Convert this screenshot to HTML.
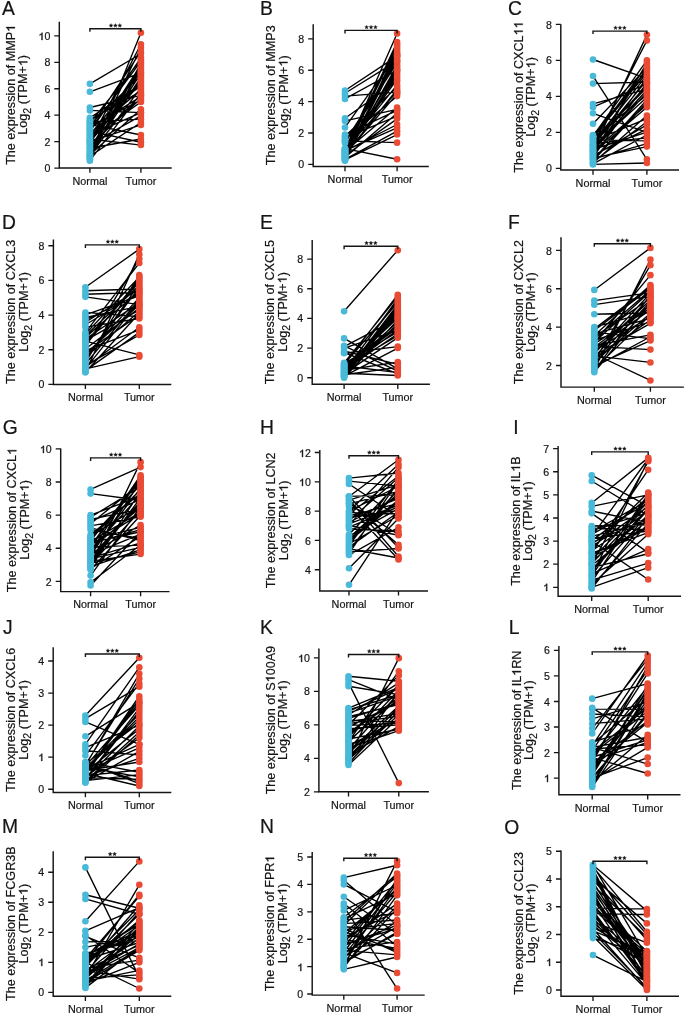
<!DOCTYPE html><html><head><meta charset="utf-8"><style>html,body{margin:0;padding:0;background:#fff;}svg{display:block;will-change:transform}</style></head><body>
<svg width="685" height="1017" viewBox="0 0 685 1017" font-family="Liberation Sans, sans-serif">
<style>text{stroke:#151515;stroke-width:0.2px;fill:#151515;font-kerning:none;white-space:pre}.one{fill:#151515;stroke:#151515;stroke-width:0.4px}</style>
<rect width="685" height="1017" fill="#fff"/>
<g><text x="2.0" y="14.85" font-size="19.3" fill="#000">A</text><path d="M89.90 122.97L140.90 59.60M89.90 141.81L140.90 82.55M89.90 145.24L140.90 98.44M89.90 124.44L140.90 135.01M89.90 143.52L140.90 64.90M89.90 131.53L140.90 57.84M89.90 135.01L140.90 112.55M89.90 136.67L140.90 80.79M89.90 138.38L140.90 101.98M89.90 152.19L140.90 47.79M89.90 144.26L140.90 115.85M89.90 155.51L140.90 87.85M89.90 133.25L140.90 89.62M89.90 124.68L140.90 75.49M89.90 146.95L140.90 94.91M89.90 131.05L140.90 142.28M89.90 119.55L140.90 91.38M89.90 157.22L140.90 68.43M89.90 158.80L140.90 32.86M89.90 150.37L140.90 73.73M89.90 117.83L140.90 84.32M89.90 156.16L140.90 122.46M89.90 121.26L140.90 86.09M89.90 129.82L140.90 61.37M89.90 91.80L140.90 72.90M89.90 160.65L140.90 93.15M89.90 128.11L140.90 96.68M89.90 148.66L140.90 66.66M89.90 134.96L140.90 71.96M89.90 83.87L140.90 53.74M89.90 152.09L140.90 79.02M89.90 141.62L140.90 124.97M89.90 140.10L140.90 70.20M89.90 110.43L140.90 112.55M89.90 154.84L140.90 109.24M89.90 138.98L140.90 145.06M89.90 158.94L140.90 63.13M89.90 121.80L140.90 119.15M89.90 148.23L140.90 138.98M89.90 141.62L140.90 44.23M89.90 107.53L140.90 95.37M89.90 153.80L140.90 77.26M89.90 128.41L140.90 51.49M89.90 126.40L140.90 100.21" stroke="#000" stroke-width="1.35" fill="none"/><g fill="#48b9d9"><circle cx="89.90" cy="122.97" r="3.3"/><circle cx="89.90" cy="141.81" r="3.3"/><circle cx="89.90" cy="145.24" r="3.3"/><circle cx="89.90" cy="124.44" r="3.3"/><circle cx="89.90" cy="143.52" r="3.3"/><circle cx="89.90" cy="131.53" r="3.3"/><circle cx="89.90" cy="135.01" r="3.3"/><circle cx="89.90" cy="136.67" r="3.3"/><circle cx="89.90" cy="138.38" r="3.3"/><circle cx="89.90" cy="152.19" r="3.3"/><circle cx="89.90" cy="144.26" r="3.3"/><circle cx="89.90" cy="155.51" r="3.3"/><circle cx="89.90" cy="133.25" r="3.3"/><circle cx="89.90" cy="124.68" r="3.3"/><circle cx="89.90" cy="146.95" r="3.3"/><circle cx="89.90" cy="131.05" r="3.3"/><circle cx="89.90" cy="119.55" r="3.3"/><circle cx="89.90" cy="157.22" r="3.3"/><circle cx="89.90" cy="158.80" r="3.3"/><circle cx="89.90" cy="150.37" r="3.3"/><circle cx="89.90" cy="117.83" r="3.3"/><circle cx="89.90" cy="156.16" r="3.3"/><circle cx="89.90" cy="121.26" r="3.3"/><circle cx="89.90" cy="129.82" r="3.3"/><circle cx="89.90" cy="91.80" r="3.3"/><circle cx="89.90" cy="160.65" r="3.3"/><circle cx="89.90" cy="128.11" r="3.3"/><circle cx="89.90" cy="148.66" r="3.3"/><circle cx="89.90" cy="134.96" r="3.3"/><circle cx="89.90" cy="83.87" r="3.3"/><circle cx="89.90" cy="152.09" r="3.3"/><circle cx="89.90" cy="141.62" r="3.3"/><circle cx="89.90" cy="140.10" r="3.3"/><circle cx="89.90" cy="110.43" r="3.3"/><circle cx="89.90" cy="154.84" r="3.3"/><circle cx="89.90" cy="138.98" r="3.3"/><circle cx="89.90" cy="158.94" r="3.3"/><circle cx="89.90" cy="121.80" r="3.3"/><circle cx="89.90" cy="148.23" r="3.3"/><circle cx="89.90" cy="141.62" r="3.3"/><circle cx="89.90" cy="107.53" r="3.3"/><circle cx="89.90" cy="153.80" r="3.3"/><circle cx="89.90" cy="128.41" r="3.3"/><circle cx="89.90" cy="126.40" r="3.3"/></g><g fill="#e94b35"><circle cx="140.90" cy="59.60" r="3.3"/><circle cx="140.90" cy="82.55" r="3.3"/><circle cx="140.90" cy="98.44" r="3.3"/><circle cx="140.90" cy="135.01" r="3.3"/><circle cx="140.90" cy="64.90" r="3.3"/><circle cx="140.90" cy="57.84" r="3.3"/><circle cx="140.90" cy="112.55" r="3.3"/><circle cx="140.90" cy="80.79" r="3.3"/><circle cx="140.90" cy="101.98" r="3.3"/><circle cx="140.90" cy="47.79" r="3.3"/><circle cx="140.90" cy="115.85" r="3.3"/><circle cx="140.90" cy="87.85" r="3.3"/><circle cx="140.90" cy="89.62" r="3.3"/><circle cx="140.90" cy="75.49" r="3.3"/><circle cx="140.90" cy="94.91" r="3.3"/><circle cx="140.90" cy="142.28" r="3.3"/><circle cx="140.90" cy="91.38" r="3.3"/><circle cx="140.90" cy="68.43" r="3.3"/><circle cx="140.90" cy="32.86" r="3.3"/><circle cx="140.90" cy="73.73" r="3.3"/><circle cx="140.90" cy="84.32" r="3.3"/><circle cx="140.90" cy="122.46" r="3.3"/><circle cx="140.90" cy="86.09" r="3.3"/><circle cx="140.90" cy="61.37" r="3.3"/><circle cx="140.90" cy="72.90" r="3.3"/><circle cx="140.90" cy="93.15" r="3.3"/><circle cx="140.90" cy="96.68" r="3.3"/><circle cx="140.90" cy="66.66" r="3.3"/><circle cx="140.90" cy="71.96" r="3.3"/><circle cx="140.90" cy="53.74" r="3.3"/><circle cx="140.90" cy="79.02" r="3.3"/><circle cx="140.90" cy="124.97" r="3.3"/><circle cx="140.90" cy="70.20" r="3.3"/><circle cx="140.90" cy="112.55" r="3.3"/><circle cx="140.90" cy="109.24" r="3.3"/><circle cx="140.90" cy="145.06" r="3.3"/><circle cx="140.90" cy="63.13" r="3.3"/><circle cx="140.90" cy="119.15" r="3.3"/><circle cx="140.90" cy="138.98" r="3.3"/><circle cx="140.90" cy="44.23" r="3.3"/><circle cx="140.90" cy="95.37" r="3.3"/><circle cx="140.90" cy="77.26" r="3.3"/><circle cx="140.90" cy="51.49" r="3.3"/><circle cx="140.90" cy="100.21" r="3.3"/></g><path d="M59.30 21.80V168.05H171.70" fill="none" stroke="#151515" stroke-width="1.45"/><path d="M54.30 168.05H59.30M54.30 141.62H59.30M54.30 115.19H59.30M54.30 88.76H59.30M54.30 62.33H59.30M54.30 35.90H59.30M89.90 168.05V172.75M140.90 168.05V172.75" stroke="#151515" stroke-width="1.35" fill="none"/><text x="44.40" y="172.00" font-size="10.6">0</text><text x="44.40" y="146.00" font-size="10.6">2</text><text x="44.40" y="119.00" font-size="10.6">4</text><text x="44.40" y="93.00" font-size="10.6">6</text><text x="44.40" y="66.00" font-size="10.6">8</text><text x="44.40" y="40.00" font-size="10.6">0</text><path d="M42.46 40.00L41.53 40.00L41.53 34.32L41.19 34.62L40.64 34.93L40.09 35.24L39.66 35.39L39.66 34.53L40.45 34.18L41.03 33.68L41.62 33.18L41.86 32.71L42.46 32.71Z" class="one"/><text x="89.90" y="184.85" font-size="10.8" text-anchor="middle" fill="#151515" style="font-kerning:normal">Normal</text><text x="140.90" y="184.85" font-size="10.8" text-anchor="middle" fill="#151515" style="font-kerning:normal">Tumor</text><g transform="translate(14.90 94.83) rotate(-90)"><text x="-70.03" y="0.00" font-size="12.6">The expression of MMP</text><path d="M67.72 0.00L66.61 0.00L66.61 -6.75L66.21 -6.39L65.56 -6.02L64.90 -5.66L64.39 -5.48L64.39 -6.50L65.32 -6.92L66.02 -7.51L66.71 -8.11L67.00 -8.67L67.72 -8.67Z" class="one"/></g><g transform="translate(27.30 94.83) rotate(-90)"><text x="-39.86" y="0.00" font-size="12.6">Log</text><text x="-18.84" y="3.90" font-size="10.5">2</text><text x="-13.00" y="0.00" font-size="12.6"> (TPM+</text><text x="35.66" y="0.00" font-size="12.6">)</text><path d="M33.35 0.00L32.24 0.00L32.24 -6.75L31.84 -6.39L31.19 -6.02L30.54 -5.66L30.03 -5.48L30.03 -6.50L30.96 -6.92L31.65 -7.51L32.35 -8.11L32.64 -8.67L33.35 -8.67Z" class="one"/></g><path d="M89.90 31.80V28.80H140.90V31.80" fill="none" stroke="#151515" stroke-width="1.4"/><path d="M111.00 23.55L110.44 24.83L109.05 24.97L110.10 25.89L109.80 27.26L111.00 26.55L112.20 27.26L111.90 25.89L112.95 24.97L111.56 24.83ZM115.40 23.55L114.84 24.83L113.45 24.97L114.50 25.89L114.20 27.26L115.40 26.55L116.60 27.26L116.30 25.89L117.35 24.97L115.96 24.83ZM119.80 23.55L119.24 24.83L117.85 24.97L118.90 25.89L118.60 27.26L119.80 26.55L121.00 27.26L120.70 25.89L121.75 24.97L120.36 24.83Z" fill="#151515" stroke="#151515" stroke-width="0.3" stroke-linejoin="round"/></g>
<g><text x="259.9" y="14.85" font-size="19.3" fill="#000">B</text><path d="M345.00 159.87L397.10 134.52M345.00 151.07L397.10 124.49M345.00 155.47L397.10 118.84M345.00 157.43L397.10 113.20M345.00 150.58L397.10 127.83M345.00 159.38L397.10 131.17M345.00 155.96L397.10 74.40M345.00 148.62L397.10 44.27M345.00 127.46L397.10 54.58M345.00 156.94L397.10 72.09M345.00 139.60L397.10 96.11M345.00 118.22L397.10 81.22M345.00 136.21L397.10 87.08M345.00 154.00L397.10 55.47M345.00 154.49L397.10 93.86M345.00 120.88L397.10 109.44M345.00 157.92L397.10 65.16M345.00 152.54L397.10 69.78M345.00 151.56L397.10 107.56M345.00 152.05L397.10 79.03M345.00 134.52L397.10 110.38M345.00 150.09L397.10 76.72M345.00 156.45L397.10 67.47M345.00 153.03L397.10 46.51M345.00 153.52L397.10 42.04M345.00 148.62L397.10 159.28M345.00 154.98L397.10 89.34M345.00 158.41L397.10 57.71M345.00 137.90L397.10 116.02M345.00 149.11L397.10 84.83M345.00 160.36L397.10 50.99M345.00 96.11L397.10 92.20M345.00 142.98L397.10 62.84M345.00 151.76L397.10 33.57M345.00 93.29L397.10 60.85M345.00 158.90L397.10 53.23M345.00 160.85L397.10 48.75M345.00 149.60L397.10 91.60M345.00 98.94L397.10 70.25M345.00 140.79L397.10 142.67M345.00 141.29L397.10 60.53M345.00 90.47L397.10 56.14" stroke="#000" stroke-width="1.35" fill="none"/><g fill="#48b9d9"><circle cx="345.00" cy="159.87" r="3.3"/><circle cx="345.00" cy="151.07" r="3.3"/><circle cx="345.00" cy="155.47" r="3.3"/><circle cx="345.00" cy="157.43" r="3.3"/><circle cx="345.00" cy="150.58" r="3.3"/><circle cx="345.00" cy="159.38" r="3.3"/><circle cx="345.00" cy="155.96" r="3.3"/><circle cx="345.00" cy="148.62" r="3.3"/><circle cx="345.00" cy="127.46" r="3.3"/><circle cx="345.00" cy="156.94" r="3.3"/><circle cx="345.00" cy="139.60" r="3.3"/><circle cx="345.00" cy="118.22" r="3.3"/><circle cx="345.00" cy="136.21" r="3.3"/><circle cx="345.00" cy="154.00" r="3.3"/><circle cx="345.00" cy="154.49" r="3.3"/><circle cx="345.00" cy="120.88" r="3.3"/><circle cx="345.00" cy="157.92" r="3.3"/><circle cx="345.00" cy="152.54" r="3.3"/><circle cx="345.00" cy="151.56" r="3.3"/><circle cx="345.00" cy="152.05" r="3.3"/><circle cx="345.00" cy="134.52" r="3.3"/><circle cx="345.00" cy="150.09" r="3.3"/><circle cx="345.00" cy="156.45" r="3.3"/><circle cx="345.00" cy="153.03" r="3.3"/><circle cx="345.00" cy="153.52" r="3.3"/><circle cx="345.00" cy="148.62" r="3.3"/><circle cx="345.00" cy="154.98" r="3.3"/><circle cx="345.00" cy="158.41" r="3.3"/><circle cx="345.00" cy="137.90" r="3.3"/><circle cx="345.00" cy="149.11" r="3.3"/><circle cx="345.00" cy="160.36" r="3.3"/><circle cx="345.00" cy="96.11" r="3.3"/><circle cx="345.00" cy="142.98" r="3.3"/><circle cx="345.00" cy="151.76" r="3.3"/><circle cx="345.00" cy="93.29" r="3.3"/><circle cx="345.00" cy="158.90" r="3.3"/><circle cx="345.00" cy="160.85" r="3.3"/><circle cx="345.00" cy="149.60" r="3.3"/><circle cx="345.00" cy="98.94" r="3.3"/><circle cx="345.00" cy="140.79" r="3.3"/><circle cx="345.00" cy="141.29" r="3.3"/><circle cx="345.00" cy="90.47" r="3.3"/></g><g fill="#e94b35"><circle cx="397.10" cy="134.52" r="3.3"/><circle cx="397.10" cy="124.49" r="3.3"/><circle cx="397.10" cy="118.84" r="3.3"/><circle cx="397.10" cy="113.20" r="3.3"/><circle cx="397.10" cy="127.83" r="3.3"/><circle cx="397.10" cy="131.17" r="3.3"/><circle cx="397.10" cy="74.40" r="3.3"/><circle cx="397.10" cy="44.27" r="3.3"/><circle cx="397.10" cy="54.58" r="3.3"/><circle cx="397.10" cy="72.09" r="3.3"/><circle cx="397.10" cy="96.11" r="3.3"/><circle cx="397.10" cy="81.22" r="3.3"/><circle cx="397.10" cy="87.08" r="3.3"/><circle cx="397.10" cy="55.47" r="3.3"/><circle cx="397.10" cy="93.86" r="3.3"/><circle cx="397.10" cy="109.44" r="3.3"/><circle cx="397.10" cy="65.16" r="3.3"/><circle cx="397.10" cy="69.78" r="3.3"/><circle cx="397.10" cy="107.56" r="3.3"/><circle cx="397.10" cy="79.03" r="3.3"/><circle cx="397.10" cy="110.38" r="3.3"/><circle cx="397.10" cy="76.72" r="3.3"/><circle cx="397.10" cy="67.47" r="3.3"/><circle cx="397.10" cy="46.51" r="3.3"/><circle cx="397.10" cy="42.04" r="3.3"/><circle cx="397.10" cy="159.28" r="3.3"/><circle cx="397.10" cy="89.34" r="3.3"/><circle cx="397.10" cy="57.71" r="3.3"/><circle cx="397.10" cy="116.02" r="3.3"/><circle cx="397.10" cy="84.83" r="3.3"/><circle cx="397.10" cy="50.99" r="3.3"/><circle cx="397.10" cy="92.20" r="3.3"/><circle cx="397.10" cy="62.84" r="3.3"/><circle cx="397.10" cy="33.57" r="3.3"/><circle cx="397.10" cy="60.85" r="3.3"/><circle cx="397.10" cy="53.23" r="3.3"/><circle cx="397.10" cy="48.75" r="3.3"/><circle cx="397.10" cy="91.60" r="3.3"/><circle cx="397.10" cy="70.25" r="3.3"/><circle cx="397.10" cy="142.67" r="3.3"/><circle cx="397.10" cy="60.53" r="3.3"/><circle cx="397.10" cy="56.14" r="3.3"/></g><path d="M313.20 24.20V166.50H428.80" fill="none" stroke="#151515" stroke-width="1.45"/><path d="M308.20 164.30H313.20M308.20 132.95H313.20M308.20 101.60H313.20M308.20 70.25H313.20M308.20 38.90H313.20M345.00 166.50V171.20M397.10 166.50V171.20" stroke="#151515" stroke-width="1.35" fill="none"/><text x="298.30" y="168.00" font-size="10.6">0</text><text x="298.30" y="137.00" font-size="10.6">2</text><text x="298.30" y="106.00" font-size="10.6">4</text><text x="298.30" y="74.00" font-size="10.6">6</text><text x="298.30" y="43.00" font-size="10.6">8</text><text x="345.00" y="183.30" font-size="10.8" text-anchor="middle" fill="#151515" style="font-kerning:normal">Normal</text><text x="397.10" y="183.30" font-size="10.8" text-anchor="middle" fill="#151515" style="font-kerning:normal">Tumor</text><g transform="translate(275.10 95.25) rotate(-90)"><text x="-70.03" y="0.00" font-size="12.6">The expression of MMP3</text></g><g transform="translate(287.50 95.25) rotate(-90)"><text x="-39.86" y="0.00" font-size="12.6">Log</text><text x="-18.84" y="3.90" font-size="10.5">2</text><text x="-13.00" y="0.00" font-size="12.6"> (TPM+</text><text x="35.66" y="0.00" font-size="12.6">)</text><path d="M33.35 0.00L32.24 0.00L32.24 -6.75L31.84 -6.39L31.19 -6.02L30.54 -5.66L30.03 -5.48L30.03 -6.50L30.96 -6.92L31.65 -7.51L32.35 -8.11L32.64 -8.67L33.35 -8.67Z" class="one"/></g><path d="M345.00 33.40V30.40H397.10V33.40" fill="none" stroke="#151515" stroke-width="1.4"/><path d="M366.65 25.15L366.09 26.43L364.70 26.57L365.75 27.49L365.45 28.86L366.65 28.15L367.85 28.86L367.55 27.49L368.60 26.57L367.21 26.43ZM371.05 25.15L370.49 26.43L369.10 26.57L370.15 27.49L369.85 28.86L371.05 28.15L372.25 28.86L371.95 27.49L373.00 26.57L371.61 26.43ZM375.45 25.15L374.89 26.43L373.50 26.57L374.55 27.49L374.25 28.86L375.45 28.15L376.65 28.86L376.35 27.49L377.40 26.57L376.01 26.43Z" fill="#151515" stroke="#151515" stroke-width="0.3" stroke-linejoin="round"/></g>
<g><text x="508.1" y="14.85" font-size="19.3" fill="#000">C</text><path d="M593.00 143.74L646.90 137.89M593.00 145.00L646.90 40.60M593.00 123.76L646.90 67.60M593.00 141.82L646.90 87.49M593.00 145.66L646.90 80.11M593.00 136.06L646.90 60.40M593.00 154.30L646.90 62.86M593.00 159.10L646.90 143.71M593.00 149.50L646.90 132.07M593.00 83.62L646.90 82.00M593.00 160.06L646.90 99.81M593.00 135.10L646.90 70.25M593.00 163.90L646.90 134.98M593.00 158.14L646.90 146.62M593.00 146.62L646.90 97.35M593.00 162.94L646.90 115.48M593.00 156.22L646.90 124.84M593.00 107.20L646.90 83.80M593.00 150.46L646.90 92.42M593.00 153.34L646.90 107.20M593.00 148.54L646.90 89.96M593.00 151.42L646.90 104.74M593.00 137.98L646.90 94.88M593.00 164.44L646.90 163.00M593.00 140.86L646.90 118.60M593.00 144.70L646.90 85.03M593.00 142.78L646.90 75.18M593.00 161.02L646.90 102.27M593.00 157.18L646.90 82.57M593.00 76.06L646.90 159.40M593.00 103.96L646.90 89.20M593.00 59.50L646.90 78.40M593.00 150.40L646.90 34.84M593.00 139.90L646.90 140.80M593.00 155.26L646.90 129.16M593.00 152.38L646.90 77.64M593.00 161.98L646.90 121.72M593.00 138.94L646.90 65.33M593.00 113.32L646.90 132.40M593.00 137.02L646.90 72.72M593.00 147.58L646.90 67.79" stroke="#000" stroke-width="1.35" fill="none"/><g fill="#48b9d9"><circle cx="593.00" cy="143.74" r="3.3"/><circle cx="593.00" cy="145.00" r="3.3"/><circle cx="593.00" cy="123.76" r="3.3"/><circle cx="593.00" cy="141.82" r="3.3"/><circle cx="593.00" cy="145.66" r="3.3"/><circle cx="593.00" cy="136.06" r="3.3"/><circle cx="593.00" cy="154.30" r="3.3"/><circle cx="593.00" cy="159.10" r="3.3"/><circle cx="593.00" cy="149.50" r="3.3"/><circle cx="593.00" cy="83.62" r="3.3"/><circle cx="593.00" cy="160.06" r="3.3"/><circle cx="593.00" cy="135.10" r="3.3"/><circle cx="593.00" cy="163.90" r="3.3"/><circle cx="593.00" cy="158.14" r="3.3"/><circle cx="593.00" cy="146.62" r="3.3"/><circle cx="593.00" cy="162.94" r="3.3"/><circle cx="593.00" cy="156.22" r="3.3"/><circle cx="593.00" cy="107.20" r="3.3"/><circle cx="593.00" cy="150.46" r="3.3"/><circle cx="593.00" cy="153.34" r="3.3"/><circle cx="593.00" cy="148.54" r="3.3"/><circle cx="593.00" cy="151.42" r="3.3"/><circle cx="593.00" cy="137.98" r="3.3"/><circle cx="593.00" cy="164.44" r="3.3"/><circle cx="593.00" cy="140.86" r="3.3"/><circle cx="593.00" cy="144.70" r="3.3"/><circle cx="593.00" cy="142.78" r="3.3"/><circle cx="593.00" cy="161.02" r="3.3"/><circle cx="593.00" cy="157.18" r="3.3"/><circle cx="593.00" cy="76.06" r="3.3"/><circle cx="593.00" cy="103.96" r="3.3"/><circle cx="593.00" cy="59.50" r="3.3"/><circle cx="593.00" cy="150.40" r="3.3"/><circle cx="593.00" cy="139.90" r="3.3"/><circle cx="593.00" cy="155.26" r="3.3"/><circle cx="593.00" cy="152.38" r="3.3"/><circle cx="593.00" cy="161.98" r="3.3"/><circle cx="593.00" cy="138.94" r="3.3"/><circle cx="593.00" cy="113.32" r="3.3"/><circle cx="593.00" cy="137.02" r="3.3"/><circle cx="593.00" cy="147.58" r="3.3"/></g><g fill="#e94b35"><circle cx="646.90" cy="137.89" r="3.3"/><circle cx="646.90" cy="40.60" r="3.3"/><circle cx="646.90" cy="67.60" r="3.3"/><circle cx="646.90" cy="87.49" r="3.3"/><circle cx="646.90" cy="80.11" r="3.3"/><circle cx="646.90" cy="60.40" r="3.3"/><circle cx="646.90" cy="62.86" r="3.3"/><circle cx="646.90" cy="143.71" r="3.3"/><circle cx="646.90" cy="132.07" r="3.3"/><circle cx="646.90" cy="82.00" r="3.3"/><circle cx="646.90" cy="99.81" r="3.3"/><circle cx="646.90" cy="70.25" r="3.3"/><circle cx="646.90" cy="134.98" r="3.3"/><circle cx="646.90" cy="146.62" r="3.3"/><circle cx="646.90" cy="97.35" r="3.3"/><circle cx="646.90" cy="115.48" r="3.3"/><circle cx="646.90" cy="124.84" r="3.3"/><circle cx="646.90" cy="83.80" r="3.3"/><circle cx="646.90" cy="92.42" r="3.3"/><circle cx="646.90" cy="107.20" r="3.3"/><circle cx="646.90" cy="89.96" r="3.3"/><circle cx="646.90" cy="104.74" r="3.3"/><circle cx="646.90" cy="94.88" r="3.3"/><circle cx="646.90" cy="163.00" r="3.3"/><circle cx="646.90" cy="118.60" r="3.3"/><circle cx="646.90" cy="85.03" r="3.3"/><circle cx="646.90" cy="75.18" r="3.3"/><circle cx="646.90" cy="102.27" r="3.3"/><circle cx="646.90" cy="82.57" r="3.3"/><circle cx="646.90" cy="159.40" r="3.3"/><circle cx="646.90" cy="89.20" r="3.3"/><circle cx="646.90" cy="78.40" r="3.3"/><circle cx="646.90" cy="34.84" r="3.3"/><circle cx="646.90" cy="140.80" r="3.3"/><circle cx="646.90" cy="129.16" r="3.3"/><circle cx="646.90" cy="77.64" r="3.3"/><circle cx="646.90" cy="121.72" r="3.3"/><circle cx="646.90" cy="65.33" r="3.3"/><circle cx="646.90" cy="132.40" r="3.3"/><circle cx="646.90" cy="72.72" r="3.3"/><circle cx="646.90" cy="67.79" r="3.3"/></g><path d="M560.80 24.20V170.00H679.00" fill="none" stroke="#151515" stroke-width="1.45"/><path d="M555.80 168.40H560.80M555.80 132.40H560.80M555.80 96.40H560.80M555.80 60.40H560.80M555.80 24.40H560.80M593.00 170.00V174.70M646.90 170.00V174.70" stroke="#151515" stroke-width="1.35" fill="none"/><text x="545.90" y="172.00" font-size="10.6">0</text><text x="545.90" y="136.00" font-size="10.6">2</text><text x="545.90" y="100.00" font-size="10.6">4</text><text x="545.90" y="64.00" font-size="10.6">6</text><text x="545.90" y="29.00" font-size="10.6">8</text><text x="593.00" y="186.80" font-size="10.8" text-anchor="middle" fill="#151515" style="font-kerning:normal">Normal</text><text x="646.90" y="186.80" font-size="10.8" text-anchor="middle" fill="#151515" style="font-kerning:normal">Tumor</text><g transform="translate(522.70 97.00) rotate(-90)"><text x="-75.64" y="0.00" font-size="12.6">The expression of CXCL</text><path d="M66.32 0.00L65.21 0.00L65.21 -6.75L64.81 -6.39L64.16 -6.02L63.51 -5.66L63.00 -5.48L63.00 -6.50L63.93 -6.92L64.62 -7.51L65.32 -8.11L65.61 -8.67L66.32 -8.67ZM73.33 0.00L72.22 0.00L72.22 -6.75L71.82 -6.39L71.17 -6.02L70.52 -5.66L70.00 -5.48L70.00 -6.50L70.93 -6.92L71.63 -7.51L72.32 -8.11L72.61 -8.67L73.33 -8.67Z" class="one"/></g><g transform="translate(535.10 97.00) rotate(-90)"><text x="-39.86" y="0.00" font-size="12.6">Log</text><text x="-18.84" y="3.90" font-size="10.5">2</text><text x="-13.00" y="0.00" font-size="12.6"> (TPM+</text><text x="35.66" y="0.00" font-size="12.6">)</text><path d="M33.35 0.00L32.24 0.00L32.24 -6.75L31.84 -6.39L31.19 -6.02L30.54 -5.66L30.03 -5.48L30.03 -6.50L30.96 -6.92L31.65 -7.51L32.35 -8.11L32.64 -8.67L33.35 -8.67Z" class="one"/></g><path d="M593.00 34.10V31.10H646.90V34.10" fill="none" stroke="#151515" stroke-width="1.4"/><path d="M615.55 25.85L614.99 27.13L613.60 27.27L614.65 28.19L614.35 29.56L615.55 28.85L616.75 29.56L616.45 28.19L617.50 27.27L616.11 27.13ZM619.95 25.85L619.39 27.13L618.00 27.27L619.05 28.19L618.75 29.56L619.95 28.85L621.15 29.56L620.85 28.19L621.90 27.27L620.51 27.13ZM624.35 25.85L623.79 27.13L622.40 27.27L623.45 28.19L623.15 29.56L624.35 28.85L625.55 29.56L625.25 28.19L626.30 27.27L624.91 27.13Z" fill="#151515" stroke="#151515" stroke-width="0.3" stroke-linejoin="round"/></g>
<g><text x="2.1" y="229.10" font-size="19.3" fill="#000">D</text><path d="M85.40 327.19L139.30 318.52M85.40 335.71L139.30 285.58M85.40 341.06L139.30 354.93M85.40 290.78L139.30 289.04M85.40 360.63L139.30 283.84M85.40 314.91L139.30 295.98M85.40 345.68L139.30 278.64M85.40 372.26L139.30 254.37M85.40 352.33L139.30 315.05M85.40 362.29L139.30 275.17M85.40 367.28L139.30 327.19M85.40 349.00L139.30 308.12M85.40 337.37L139.30 290.78M85.40 342.36L139.30 282.11M85.40 317.36L139.30 306.38M85.40 363.96L139.30 299.45M85.40 355.65L139.30 297.71M85.40 358.97L139.30 287.31M85.40 347.34L139.30 258.70M85.40 322.27L139.30 289.04M85.40 350.66L139.30 329.79M85.40 370.60L139.30 332.39M85.40 357.31L139.30 311.58M85.40 334.05L139.30 276.91M85.40 372.26L139.30 313.32M85.40 312.45L139.30 316.78M85.40 368.94L139.30 301.18M85.40 332.39L139.30 263.04M85.40 340.70L139.30 309.85M85.40 294.25L139.30 292.51M85.40 339.03L139.30 302.91M85.40 344.02L139.30 280.38M85.40 353.99L139.30 304.65M85.40 287.31L139.30 249.17M85.40 368.80L139.30 356.66M85.40 319.82L139.30 294.25M85.40 365.62L139.30 334.99M85.40 324.73L139.30 292.51M85.40 296.85L139.30 304.65" stroke="#000" stroke-width="1.35" fill="none"/><g fill="#48b9d9"><circle cx="85.40" cy="327.19" r="3.3"/><circle cx="85.40" cy="335.71" r="3.3"/><circle cx="85.40" cy="341.06" r="3.3"/><circle cx="85.40" cy="290.78" r="3.3"/><circle cx="85.40" cy="360.63" r="3.3"/><circle cx="85.40" cy="314.91" r="3.3"/><circle cx="85.40" cy="345.68" r="3.3"/><circle cx="85.40" cy="372.26" r="3.3"/><circle cx="85.40" cy="352.33" r="3.3"/><circle cx="85.40" cy="362.29" r="3.3"/><circle cx="85.40" cy="367.28" r="3.3"/><circle cx="85.40" cy="349.00" r="3.3"/><circle cx="85.40" cy="337.37" r="3.3"/><circle cx="85.40" cy="342.36" r="3.3"/><circle cx="85.40" cy="317.36" r="3.3"/><circle cx="85.40" cy="363.96" r="3.3"/><circle cx="85.40" cy="355.65" r="3.3"/><circle cx="85.40" cy="358.97" r="3.3"/><circle cx="85.40" cy="347.34" r="3.3"/><circle cx="85.40" cy="322.27" r="3.3"/><circle cx="85.40" cy="350.66" r="3.3"/><circle cx="85.40" cy="370.60" r="3.3"/><circle cx="85.40" cy="357.31" r="3.3"/><circle cx="85.40" cy="334.05" r="3.3"/><circle cx="85.40" cy="372.26" r="3.3"/><circle cx="85.40" cy="312.45" r="3.3"/><circle cx="85.40" cy="368.94" r="3.3"/><circle cx="85.40" cy="332.39" r="3.3"/><circle cx="85.40" cy="340.70" r="3.3"/><circle cx="85.40" cy="294.25" r="3.3"/><circle cx="85.40" cy="339.03" r="3.3"/><circle cx="85.40" cy="344.02" r="3.3"/><circle cx="85.40" cy="353.99" r="3.3"/><circle cx="85.40" cy="287.31" r="3.3"/><circle cx="85.40" cy="368.80" r="3.3"/><circle cx="85.40" cy="319.82" r="3.3"/><circle cx="85.40" cy="365.62" r="3.3"/><circle cx="85.40" cy="324.73" r="3.3"/><circle cx="85.40" cy="296.85" r="3.3"/></g><g fill="#e94b35"><circle cx="139.30" cy="318.52" r="3.3"/><circle cx="139.30" cy="285.58" r="3.3"/><circle cx="139.30" cy="354.93" r="3.3"/><circle cx="139.30" cy="289.04" r="3.3"/><circle cx="139.30" cy="283.84" r="3.3"/><circle cx="139.30" cy="295.98" r="3.3"/><circle cx="139.30" cy="278.64" r="3.3"/><circle cx="139.30" cy="254.37" r="3.3"/><circle cx="139.30" cy="315.05" r="3.3"/><circle cx="139.30" cy="275.17" r="3.3"/><circle cx="139.30" cy="327.19" r="3.3"/><circle cx="139.30" cy="308.12" r="3.3"/><circle cx="139.30" cy="290.78" r="3.3"/><circle cx="139.30" cy="282.11" r="3.3"/><circle cx="139.30" cy="306.38" r="3.3"/><circle cx="139.30" cy="299.45" r="3.3"/><circle cx="139.30" cy="297.71" r="3.3"/><circle cx="139.30" cy="287.31" r="3.3"/><circle cx="139.30" cy="258.70" r="3.3"/><circle cx="139.30" cy="289.04" r="3.3"/><circle cx="139.30" cy="329.79" r="3.3"/><circle cx="139.30" cy="332.39" r="3.3"/><circle cx="139.30" cy="311.58" r="3.3"/><circle cx="139.30" cy="276.91" r="3.3"/><circle cx="139.30" cy="313.32" r="3.3"/><circle cx="139.30" cy="316.78" r="3.3"/><circle cx="139.30" cy="301.18" r="3.3"/><circle cx="139.30" cy="263.04" r="3.3"/><circle cx="139.30" cy="309.85" r="3.3"/><circle cx="139.30" cy="292.51" r="3.3"/><circle cx="139.30" cy="302.91" r="3.3"/><circle cx="139.30" cy="280.38" r="3.3"/><circle cx="139.30" cy="304.65" r="3.3"/><circle cx="139.30" cy="249.17" r="3.3"/><circle cx="139.30" cy="356.66" r="3.3"/><circle cx="139.30" cy="294.25" r="3.3"/><circle cx="139.30" cy="334.99" r="3.3"/><circle cx="139.30" cy="292.51" r="3.3"/><circle cx="139.30" cy="304.65" r="3.3"/></g><path d="M53.40 239.40V384.40H171.30" fill="none" stroke="#151515" stroke-width="1.45"/><path d="M48.40 384.40H53.40M48.40 349.72H53.40M48.40 315.05H53.40M48.40 280.38H53.40M48.40 245.70H53.40M85.40 384.40V389.10M139.30 384.40V389.10" stroke="#151515" stroke-width="1.35" fill="none"/><text x="38.50" y="388.00" font-size="10.6">0</text><text x="38.50" y="354.00" font-size="10.6">2</text><text x="38.50" y="319.00" font-size="10.6">4</text><text x="38.50" y="284.00" font-size="10.6">6</text><text x="38.50" y="250.00" font-size="10.6">8</text><text x="85.40" y="401.20" font-size="10.8" text-anchor="middle" fill="#151515" style="font-kerning:normal">Normal</text><text x="139.30" y="401.20" font-size="10.8" text-anchor="middle" fill="#151515" style="font-kerning:normal">Tumor</text><g transform="translate(15.30 311.80) rotate(-90)"><text x="-72.14" y="0.00" font-size="12.6">The expression of CXCL3</text></g><g transform="translate(27.70 311.80) rotate(-90)"><text x="-39.86" y="0.00" font-size="12.6">Log</text><text x="-18.84" y="3.90" font-size="10.5">2</text><text x="-13.00" y="0.00" font-size="12.6"> (TPM+</text><text x="35.66" y="0.00" font-size="12.6">)</text><path d="M33.35 0.00L32.24 0.00L32.24 -6.75L31.84 -6.39L31.19 -6.02L30.54 -5.66L30.03 -5.48L30.03 -6.50L30.96 -6.92L31.65 -7.51L32.35 -8.11L32.64 -8.67L33.35 -8.67Z" class="one"/></g><path d="M85.40 247.90V244.90H139.30V247.90" fill="none" stroke="#151515" stroke-width="1.4"/><path d="M107.95 239.65L107.39 240.93L106.00 241.07L107.05 241.99L106.75 243.36L107.95 242.65L109.15 243.36L108.85 241.99L109.90 241.07L108.51 240.93ZM112.35 239.65L111.79 240.93L110.40 241.07L111.45 241.99L111.15 243.36L112.35 242.65L113.55 243.36L113.25 241.99L114.30 241.07L112.91 240.93ZM116.75 239.65L116.19 240.93L114.80 241.07L115.85 241.99L115.55 243.36L116.75 242.65L117.95 243.36L117.65 241.99L118.70 241.07L117.31 240.93Z" fill="#151515" stroke="#151515" stroke-width="0.3" stroke-linejoin="round"/></g>
<g><text x="259.9" y="229.10" font-size="19.3" fill="#000">E</text><path d="M344.10 363.55L397.80 331.81M344.10 373.25L397.80 375.48M344.10 375.68L397.80 306.41M344.10 375.00L397.80 310.31M344.10 372.98L397.80 323.99M344.10 376.35L397.80 308.36M344.10 364.90L397.80 294.68M344.10 377.03L397.80 312.27M344.10 366.92L397.80 335.72M344.10 368.94L397.80 329.86M344.10 367.59L397.80 316.18M344.10 370.29L397.80 333.76M344.10 372.31L397.80 298.59M344.10 364.22L397.80 302.50M344.10 346.57L397.80 318.40M344.10 311.28L397.80 250.21M344.10 371.64L397.80 314.22M344.10 370.96L397.80 300.54M344.10 352.50L397.80 373.99M344.10 362.88L397.80 296.63M344.10 374.33L397.80 304.45M344.10 348.05L397.80 330.26M344.10 368.27L397.80 318.13M344.10 377.70L397.80 320.08M344.10 345.83L397.80 371.03M344.10 366.24L397.80 327.90M344.10 374.74L397.80 367.32M344.10 338.41L397.80 368.81M344.10 365.57L397.80 325.95M344.10 376.22L397.80 348.05M344.10 351.01L397.80 364.36M344.10 373.66L397.80 337.67M344.10 370.29L397.80 362.13M344.10 365.84L397.80 372.51M344.10 353.24L397.80 346.57M344.10 369.61L397.80 322.04" stroke="#000" stroke-width="1.35" fill="none"/><g fill="#48b9d9"><circle cx="344.10" cy="363.55" r="3.3"/><circle cx="344.10" cy="373.25" r="3.3"/><circle cx="344.10" cy="375.68" r="3.3"/><circle cx="344.10" cy="375.00" r="3.3"/><circle cx="344.10" cy="372.98" r="3.3"/><circle cx="344.10" cy="376.35" r="3.3"/><circle cx="344.10" cy="364.90" r="3.3"/><circle cx="344.10" cy="377.03" r="3.3"/><circle cx="344.10" cy="366.92" r="3.3"/><circle cx="344.10" cy="368.94" r="3.3"/><circle cx="344.10" cy="367.59" r="3.3"/><circle cx="344.10" cy="370.29" r="3.3"/><circle cx="344.10" cy="372.31" r="3.3"/><circle cx="344.10" cy="364.22" r="3.3"/><circle cx="344.10" cy="346.57" r="3.3"/><circle cx="344.10" cy="311.28" r="3.3"/><circle cx="344.10" cy="371.64" r="3.3"/><circle cx="344.10" cy="370.96" r="3.3"/><circle cx="344.10" cy="352.50" r="3.3"/><circle cx="344.10" cy="362.88" r="3.3"/><circle cx="344.10" cy="374.33" r="3.3"/><circle cx="344.10" cy="348.05" r="3.3"/><circle cx="344.10" cy="368.27" r="3.3"/><circle cx="344.10" cy="377.70" r="3.3"/><circle cx="344.10" cy="345.83" r="3.3"/><circle cx="344.10" cy="366.24" r="3.3"/><circle cx="344.10" cy="374.74" r="3.3"/><circle cx="344.10" cy="338.41" r="3.3"/><circle cx="344.10" cy="365.57" r="3.3"/><circle cx="344.10" cy="376.22" r="3.3"/><circle cx="344.10" cy="351.01" r="3.3"/><circle cx="344.10" cy="373.66" r="3.3"/><circle cx="344.10" cy="370.29" r="3.3"/><circle cx="344.10" cy="365.84" r="3.3"/><circle cx="344.10" cy="353.24" r="3.3"/><circle cx="344.10" cy="369.61" r="3.3"/></g><g fill="#e94b35"><circle cx="397.80" cy="331.81" r="3.3"/><circle cx="397.80" cy="375.48" r="3.3"/><circle cx="397.80" cy="306.41" r="3.3"/><circle cx="397.80" cy="310.31" r="3.3"/><circle cx="397.80" cy="323.99" r="3.3"/><circle cx="397.80" cy="308.36" r="3.3"/><circle cx="397.80" cy="294.68" r="3.3"/><circle cx="397.80" cy="312.27" r="3.3"/><circle cx="397.80" cy="335.72" r="3.3"/><circle cx="397.80" cy="329.86" r="3.3"/><circle cx="397.80" cy="316.18" r="3.3"/><circle cx="397.80" cy="333.76" r="3.3"/><circle cx="397.80" cy="298.59" r="3.3"/><circle cx="397.80" cy="302.50" r="3.3"/><circle cx="397.80" cy="318.40" r="3.3"/><circle cx="397.80" cy="250.21" r="3.3"/><circle cx="397.80" cy="314.22" r="3.3"/><circle cx="397.80" cy="300.54" r="3.3"/><circle cx="397.80" cy="373.99" r="3.3"/><circle cx="397.80" cy="296.63" r="3.3"/><circle cx="397.80" cy="304.45" r="3.3"/><circle cx="397.80" cy="330.26" r="3.3"/><circle cx="397.80" cy="318.13" r="3.3"/><circle cx="397.80" cy="320.08" r="3.3"/><circle cx="397.80" cy="371.03" r="3.3"/><circle cx="397.80" cy="327.90" r="3.3"/><circle cx="397.80" cy="367.32" r="3.3"/><circle cx="397.80" cy="368.81" r="3.3"/><circle cx="397.80" cy="325.95" r="3.3"/><circle cx="397.80" cy="348.05" r="3.3"/><circle cx="397.80" cy="364.36" r="3.3"/><circle cx="397.80" cy="337.67" r="3.3"/><circle cx="397.80" cy="362.13" r="3.3"/><circle cx="397.80" cy="372.51" r="3.3"/><circle cx="397.80" cy="346.57" r="3.3"/><circle cx="397.80" cy="322.04" r="3.3"/></g><path d="M312.20 240.00V384.20H429.90" fill="none" stroke="#151515" stroke-width="1.45"/><path d="M307.20 377.70H312.20M307.20 348.05H312.20M307.20 318.40H312.20M307.20 288.75H312.20M307.20 259.10H312.20M344.10 384.20V388.90M397.80 384.20V388.90" stroke="#151515" stroke-width="1.35" fill="none"/><text x="297.30" y="382.00" font-size="10.6">0</text><text x="297.30" y="352.00" font-size="10.6">2</text><text x="297.30" y="322.00" font-size="10.6">4</text><text x="297.30" y="293.00" font-size="10.6">6</text><text x="297.30" y="263.00" font-size="10.6">8</text><text x="344.10" y="401.00" font-size="10.8" text-anchor="middle" fill="#151515" style="font-kerning:normal">Normal</text><text x="397.80" y="401.00" font-size="10.8" text-anchor="middle" fill="#151515" style="font-kerning:normal">Tumor</text><g transform="translate(274.10 312.00) rotate(-90)"><text x="-72.14" y="0.00" font-size="12.6">The expression of CXCL5</text></g><g transform="translate(286.50 312.00) rotate(-90)"><text x="-39.86" y="0.00" font-size="12.6">Log</text><text x="-18.84" y="3.90" font-size="10.5">2</text><text x="-13.00" y="0.00" font-size="12.6"> (TPM+</text><text x="35.66" y="0.00" font-size="12.6">)</text><path d="M33.35 0.00L32.24 0.00L32.24 -6.75L31.84 -6.39L31.19 -6.02L30.54 -5.66L30.03 -5.48L30.03 -6.50L30.96 -6.92L31.65 -7.51L32.35 -8.11L32.64 -8.67L33.35 -8.67Z" class="one"/></g><path d="M344.10 249.30V246.30H397.80V249.30" fill="none" stroke="#151515" stroke-width="1.4"/><path d="M366.55 241.05L365.99 242.33L364.60 242.47L365.65 243.39L365.35 244.76L366.55 244.05L367.75 244.76L367.45 243.39L368.50 242.47L367.11 242.33ZM370.95 241.05L370.39 242.33L369.00 242.47L370.05 243.39L369.75 244.76L370.95 244.05L372.15 244.76L371.85 243.39L372.90 242.47L371.51 242.33ZM375.35 241.05L374.79 242.33L373.40 242.47L374.45 243.39L374.15 244.76L375.35 244.05L376.55 244.76L376.25 243.39L377.30 242.47L375.91 242.33Z" fill="#151515" stroke="#151515" stroke-width="0.3" stroke-linejoin="round"/></g>
<g><text x="508.1" y="229.10" font-size="19.3" fill="#000">F</text><path d="M594.30 330.47L650.40 288.27M594.30 370.54L650.40 294.94M594.30 363.87L650.40 306.62M594.30 335.48L650.40 284.93M594.30 355.91L650.40 362.43M594.30 340.49L650.40 321.63M594.30 355.52L650.40 323.30M594.30 353.99L650.40 380.46M594.30 345.50L650.40 334.81M594.30 304.69L650.40 296.44M594.30 362.20L650.40 313.29M594.30 350.51L650.40 316.62M594.30 360.53L650.40 301.61M594.30 332.14L650.40 338.64M594.30 314.28L650.40 312.75M594.30 337.15L650.40 298.27M594.30 368.87L650.40 314.96M594.30 343.83L650.40 308.28M594.30 333.81L650.40 318.29M594.30 327.13L650.40 311.62M594.30 338.82L650.40 289.93M594.30 365.54L650.40 340.56M594.30 289.92L650.40 247.91M594.30 353.85L650.40 293.27M594.30 357.19L650.40 296.61M594.30 369.34L650.40 259.61M594.30 372.21L650.40 303.28M594.30 346.32L650.40 349.58M594.30 328.80L650.40 286.60M594.30 300.66L650.40 292.60M594.30 347.17L650.40 304.95M594.30 342.16L650.40 291.60M594.30 361.66L650.40 265.17M594.30 367.21L650.40 336.73M594.30 342.48L650.40 275.15M594.30 352.18L650.40 299.94M594.30 348.84L650.40 309.95M594.30 358.86L650.40 319.96" stroke="#000" stroke-width="1.35" fill="none"/><g fill="#48b9d9"><circle cx="594.30" cy="330.47" r="3.3"/><circle cx="594.30" cy="370.54" r="3.3"/><circle cx="594.30" cy="363.87" r="3.3"/><circle cx="594.30" cy="335.48" r="3.3"/><circle cx="594.30" cy="355.91" r="3.3"/><circle cx="594.30" cy="340.49" r="3.3"/><circle cx="594.30" cy="355.52" r="3.3"/><circle cx="594.30" cy="353.99" r="3.3"/><circle cx="594.30" cy="345.50" r="3.3"/><circle cx="594.30" cy="304.69" r="3.3"/><circle cx="594.30" cy="362.20" r="3.3"/><circle cx="594.30" cy="350.51" r="3.3"/><circle cx="594.30" cy="360.53" r="3.3"/><circle cx="594.30" cy="332.14" r="3.3"/><circle cx="594.30" cy="314.28" r="3.3"/><circle cx="594.30" cy="337.15" r="3.3"/><circle cx="594.30" cy="368.87" r="3.3"/><circle cx="594.30" cy="343.83" r="3.3"/><circle cx="594.30" cy="333.81" r="3.3"/><circle cx="594.30" cy="327.13" r="3.3"/><circle cx="594.30" cy="338.82" r="3.3"/><circle cx="594.30" cy="365.54" r="3.3"/><circle cx="594.30" cy="289.92" r="3.3"/><circle cx="594.30" cy="353.85" r="3.3"/><circle cx="594.30" cy="357.19" r="3.3"/><circle cx="594.30" cy="369.34" r="3.3"/><circle cx="594.30" cy="372.21" r="3.3"/><circle cx="594.30" cy="346.32" r="3.3"/><circle cx="594.30" cy="328.80" r="3.3"/><circle cx="594.30" cy="300.66" r="3.3"/><circle cx="594.30" cy="347.17" r="3.3"/><circle cx="594.30" cy="342.16" r="3.3"/><circle cx="594.30" cy="361.66" r="3.3"/><circle cx="594.30" cy="367.21" r="3.3"/><circle cx="594.30" cy="342.48" r="3.3"/><circle cx="594.30" cy="352.18" r="3.3"/><circle cx="594.30" cy="348.84" r="3.3"/><circle cx="594.30" cy="358.86" r="3.3"/></g><g fill="#e94b35"><circle cx="650.40" cy="288.27" r="3.3"/><circle cx="650.40" cy="294.94" r="3.3"/><circle cx="650.40" cy="306.62" r="3.3"/><circle cx="650.40" cy="284.93" r="3.3"/><circle cx="650.40" cy="362.43" r="3.3"/><circle cx="650.40" cy="321.63" r="3.3"/><circle cx="650.40" cy="323.30" r="3.3"/><circle cx="650.40" cy="380.46" r="3.3"/><circle cx="650.40" cy="334.81" r="3.3"/><circle cx="650.40" cy="296.44" r="3.3"/><circle cx="650.40" cy="313.29" r="3.3"/><circle cx="650.40" cy="316.62" r="3.3"/><circle cx="650.40" cy="301.61" r="3.3"/><circle cx="650.40" cy="338.64" r="3.3"/><circle cx="650.40" cy="312.75" r="3.3"/><circle cx="650.40" cy="298.27" r="3.3"/><circle cx="650.40" cy="314.96" r="3.3"/><circle cx="650.40" cy="308.28" r="3.3"/><circle cx="650.40" cy="318.29" r="3.3"/><circle cx="650.40" cy="311.62" r="3.3"/><circle cx="650.40" cy="289.93" r="3.3"/><circle cx="650.40" cy="340.56" r="3.3"/><circle cx="650.40" cy="247.91" r="3.3"/><circle cx="650.40" cy="293.27" r="3.3"/><circle cx="650.40" cy="296.61" r="3.3"/><circle cx="650.40" cy="259.61" r="3.3"/><circle cx="650.40" cy="303.28" r="3.3"/><circle cx="650.40" cy="349.58" r="3.3"/><circle cx="650.40" cy="286.60" r="3.3"/><circle cx="650.40" cy="292.60" r="3.3"/><circle cx="650.40" cy="304.95" r="3.3"/><circle cx="650.40" cy="291.60" r="3.3"/><circle cx="650.40" cy="265.17" r="3.3"/><circle cx="650.40" cy="336.73" r="3.3"/><circle cx="650.40" cy="275.15" r="3.3"/><circle cx="650.40" cy="299.94" r="3.3"/><circle cx="650.40" cy="309.95" r="3.3"/><circle cx="650.40" cy="319.96" r="3.3"/></g><path d="M561.00 237.30V387.10H683.90" fill="none" stroke="#151515" stroke-width="1.45"/><path d="M556.00 365.50H561.00M556.00 327.13H561.00M556.00 288.77H561.00M556.00 250.40H561.00M594.30 387.10V391.80M650.40 387.10V391.80" stroke="#151515" stroke-width="1.35" fill="none"/><text x="546.10" y="370.00" font-size="10.6">2</text><text x="546.10" y="331.00" font-size="10.6">4</text><text x="546.10" y="293.00" font-size="10.6">6</text><text x="546.10" y="255.00" font-size="10.6">8</text><text x="594.30" y="403.90" font-size="10.8" text-anchor="middle" fill="#151515" style="font-kerning:normal">Normal</text><text x="650.40" y="403.90" font-size="10.8" text-anchor="middle" fill="#151515" style="font-kerning:normal">Tumor</text><g transform="translate(522.90 312.10) rotate(-90)"><text x="-72.14" y="0.00" font-size="12.6">The expression of CXCL2</text></g><g transform="translate(535.30 312.10) rotate(-90)"><text x="-39.86" y="0.00" font-size="12.6">Log</text><text x="-18.84" y="3.90" font-size="10.5">2</text><text x="-13.00" y="0.00" font-size="12.6"> (TPM+</text><text x="35.66" y="0.00" font-size="12.6">)</text><path d="M33.35 0.00L32.24 0.00L32.24 -6.75L31.84 -6.39L31.19 -6.02L30.54 -5.66L30.03 -5.48L30.03 -6.50L30.96 -6.92L31.65 -7.51L32.35 -8.11L32.64 -8.67L33.35 -8.67Z" class="one"/></g><path d="M594.30 246.80V243.80H650.40V246.80" fill="none" stroke="#151515" stroke-width="1.4"/><path d="M617.95 238.55L617.39 239.83L616.00 239.97L617.05 240.89L616.75 242.26L617.95 241.55L619.15 242.26L618.85 240.89L619.90 239.97L618.51 239.83ZM622.35 238.55L621.79 239.83L620.40 239.97L621.45 240.89L621.15 242.26L622.35 241.55L623.55 242.26L623.25 240.89L624.30 239.97L622.91 239.83ZM626.75 238.55L626.19 239.83L624.80 239.97L625.85 240.89L625.55 242.26L626.75 241.55L627.95 242.26L627.65 240.89L628.70 239.97L627.31 239.83Z" fill="#151515" stroke="#151515" stroke-width="0.3" stroke-linejoin="round"/></g>
<g><text x="2.7" y="433.80" font-size="19.3" fill="#000">G</text><path d="M90.60 568.72L140.60 536.24M90.60 554.59L140.60 534.01M90.60 527.93L140.60 540.69M90.60 556.76L140.60 504.07M90.60 558.94L140.60 547.38M90.60 549.15L140.60 507.25M90.60 567.63L140.60 491.33M90.60 560.02L140.60 502.47M90.60 561.11L140.60 554.07M90.60 539.37L140.60 527.32M90.60 551.33L140.60 476.99M90.60 515.15L140.60 496.10M90.60 544.81L140.60 513.62M90.60 521.54L140.60 499.29M90.60 535.02L140.60 492.92M90.60 525.80L140.60 516.81M90.60 545.89L140.60 478.59M90.60 582.23L140.60 544.96M90.60 548.07L140.60 475.40M90.60 489.48L140.60 467.12M90.60 523.67L140.60 483.36M90.60 541.55L140.60 512.03M90.60 566.55L140.60 549.61M90.60 540.46L140.60 480.18M90.60 563.28L140.60 551.84M90.60 553.50L140.60 525.09M90.60 575.60L140.60 506.87M90.60 537.20L140.60 484.96M90.60 542.63L140.60 531.78M90.60 562.20L140.60 500.88M90.60 493.62L140.60 500.24M90.60 565.46L140.60 497.70M90.60 552.42L140.60 488.14M90.60 530.06L140.60 538.46M90.60 546.98L140.60 545.15M90.60 564.37L140.60 510.44M90.60 550.24L140.60 494.51M90.60 536.11L140.60 505.66M90.60 538.29L140.60 489.73M90.60 517.28L140.60 486.55M90.60 564.84L140.60 462.15M90.60 555.68L140.60 481.77M90.60 557.85L140.60 542.92M90.60 585.54L140.60 531.71M90.60 543.72L140.60 529.55M90.60 569.81L140.60 515.21M90.60 519.41L140.60 508.84" stroke="#000" stroke-width="1.35" fill="none"/><g fill="#48b9d9"><circle cx="90.60" cy="568.72" r="3.3"/><circle cx="90.60" cy="554.59" r="3.3"/><circle cx="90.60" cy="527.93" r="3.3"/><circle cx="90.60" cy="556.76" r="3.3"/><circle cx="90.60" cy="558.94" r="3.3"/><circle cx="90.60" cy="549.15" r="3.3"/><circle cx="90.60" cy="567.63" r="3.3"/><circle cx="90.60" cy="560.02" r="3.3"/><circle cx="90.60" cy="561.11" r="3.3"/><circle cx="90.60" cy="539.37" r="3.3"/><circle cx="90.60" cy="551.33" r="3.3"/><circle cx="90.60" cy="515.15" r="3.3"/><circle cx="90.60" cy="544.81" r="3.3"/><circle cx="90.60" cy="521.54" r="3.3"/><circle cx="90.60" cy="535.02" r="3.3"/><circle cx="90.60" cy="525.80" r="3.3"/><circle cx="90.60" cy="545.89" r="3.3"/><circle cx="90.60" cy="582.23" r="3.3"/><circle cx="90.60" cy="548.07" r="3.3"/><circle cx="90.60" cy="489.48" r="3.3"/><circle cx="90.60" cy="523.67" r="3.3"/><circle cx="90.60" cy="541.55" r="3.3"/><circle cx="90.60" cy="566.55" r="3.3"/><circle cx="90.60" cy="540.46" r="3.3"/><circle cx="90.60" cy="563.28" r="3.3"/><circle cx="90.60" cy="553.50" r="3.3"/><circle cx="90.60" cy="575.60" r="3.3"/><circle cx="90.60" cy="537.20" r="3.3"/><circle cx="90.60" cy="542.63" r="3.3"/><circle cx="90.60" cy="562.20" r="3.3"/><circle cx="90.60" cy="493.62" r="3.3"/><circle cx="90.60" cy="565.46" r="3.3"/><circle cx="90.60" cy="552.42" r="3.3"/><circle cx="90.60" cy="530.06" r="3.3"/><circle cx="90.60" cy="546.98" r="3.3"/><circle cx="90.60" cy="564.37" r="3.3"/><circle cx="90.60" cy="550.24" r="3.3"/><circle cx="90.60" cy="536.11" r="3.3"/><circle cx="90.60" cy="538.29" r="3.3"/><circle cx="90.60" cy="517.28" r="3.3"/><circle cx="90.60" cy="564.84" r="3.3"/><circle cx="90.60" cy="555.68" r="3.3"/><circle cx="90.60" cy="557.85" r="3.3"/><circle cx="90.60" cy="585.54" r="3.3"/><circle cx="90.60" cy="543.72" r="3.3"/><circle cx="90.60" cy="569.81" r="3.3"/><circle cx="90.60" cy="519.41" r="3.3"/></g><g fill="#e94b35"><circle cx="140.60" cy="536.24" r="3.3"/><circle cx="140.60" cy="534.01" r="3.3"/><circle cx="140.60" cy="540.69" r="3.3"/><circle cx="140.60" cy="504.07" r="3.3"/><circle cx="140.60" cy="547.38" r="3.3"/><circle cx="140.60" cy="507.25" r="3.3"/><circle cx="140.60" cy="491.33" r="3.3"/><circle cx="140.60" cy="502.47" r="3.3"/><circle cx="140.60" cy="554.07" r="3.3"/><circle cx="140.60" cy="527.32" r="3.3"/><circle cx="140.60" cy="476.99" r="3.3"/><circle cx="140.60" cy="496.10" r="3.3"/><circle cx="140.60" cy="513.62" r="3.3"/><circle cx="140.60" cy="499.29" r="3.3"/><circle cx="140.60" cy="492.92" r="3.3"/><circle cx="140.60" cy="516.81" r="3.3"/><circle cx="140.60" cy="478.59" r="3.3"/><circle cx="140.60" cy="544.96" r="3.3"/><circle cx="140.60" cy="475.40" r="3.3"/><circle cx="140.60" cy="467.12" r="3.3"/><circle cx="140.60" cy="483.36" r="3.3"/><circle cx="140.60" cy="512.03" r="3.3"/><circle cx="140.60" cy="549.61" r="3.3"/><circle cx="140.60" cy="480.18" r="3.3"/><circle cx="140.60" cy="551.84" r="3.3"/><circle cx="140.60" cy="525.09" r="3.3"/><circle cx="140.60" cy="506.87" r="3.3"/><circle cx="140.60" cy="484.96" r="3.3"/><circle cx="140.60" cy="531.78" r="3.3"/><circle cx="140.60" cy="500.88" r="3.3"/><circle cx="140.60" cy="500.24" r="3.3"/><circle cx="140.60" cy="497.70" r="3.3"/><circle cx="140.60" cy="488.14" r="3.3"/><circle cx="140.60" cy="538.46" r="3.3"/><circle cx="140.60" cy="545.15" r="3.3"/><circle cx="140.60" cy="510.44" r="3.3"/><circle cx="140.60" cy="494.51" r="3.3"/><circle cx="140.60" cy="505.66" r="3.3"/><circle cx="140.60" cy="489.73" r="3.3"/><circle cx="140.60" cy="486.55" r="3.3"/><circle cx="140.60" cy="462.15" r="3.3"/><circle cx="140.60" cy="481.77" r="3.3"/><circle cx="140.60" cy="542.92" r="3.3"/><circle cx="140.60" cy="531.71" r="3.3"/><circle cx="140.60" cy="529.55" r="3.3"/><circle cx="140.60" cy="515.21" r="3.3"/><circle cx="140.60" cy="508.84" r="3.3"/></g><path d="M60.70 448.60V591.60H169.50" fill="none" stroke="#151515" stroke-width="1.45"/><path d="M55.70 581.40H60.70M55.70 548.27H60.70M55.70 515.15H60.70M55.70 482.02H60.70M55.70 448.90H60.70M90.60 591.60V596.30M140.60 591.60V596.30" stroke="#151515" stroke-width="1.35" fill="none"/><text x="45.80" y="586.00" font-size="10.6">2</text><text x="45.80" y="552.00" font-size="10.6">4</text><text x="45.80" y="519.00" font-size="10.6">6</text><text x="45.80" y="486.00" font-size="10.6">8</text><text x="45.80" y="453.00" font-size="10.6">0</text><path d="M43.86 453.00L42.93 453.00L42.93 447.32L42.59 447.62L42.04 447.93L41.49 448.24L41.06 448.39L41.06 447.53L41.85 447.18L42.43 446.68L43.02 446.18L43.26 445.71L43.86 445.71Z" class="one"/><text x="90.60" y="608.40" font-size="10.8" text-anchor="middle" fill="#151515" style="font-kerning:normal">Normal</text><text x="140.60" y="608.40" font-size="10.8" text-anchor="middle" fill="#151515" style="font-kerning:normal">Tumor</text><g transform="translate(16.30 520.00) rotate(-90)"><text x="-72.14" y="0.00" font-size="12.6">The expression of CXCL</text><path d="M69.82 0.00L68.72 0.00L68.72 -6.75L68.32 -6.39L67.66 -6.02L67.01 -5.66L66.50 -5.48L66.50 -6.50L67.43 -6.92L68.12 -7.51L68.82 -8.11L69.11 -8.67L69.82 -8.67Z" class="one"/></g><g transform="translate(28.70 520.00) rotate(-90)"><text x="-39.86" y="0.00" font-size="12.6">Log</text><text x="-18.84" y="3.90" font-size="10.5">2</text><text x="-13.00" y="0.00" font-size="12.6"> (TPM+</text><text x="35.66" y="0.00" font-size="12.6">)</text><path d="M33.35 0.00L32.24 0.00L32.24 -6.75L31.84 -6.39L31.19 -6.02L30.54 -5.66L30.03 -5.48L30.03 -6.50L30.96 -6.92L31.65 -7.51L32.35 -8.11L32.64 -8.67L33.35 -8.67Z" class="one"/></g><path d="M90.60 460.90V457.90H140.60V460.90" fill="none" stroke="#151515" stroke-width="1.4"/><path d="M111.20 452.65L110.64 453.93L109.25 454.07L110.30 454.99L110.00 456.36L111.20 455.65L112.40 456.36L112.10 454.99L113.15 454.07L111.76 453.93ZM115.60 452.65L115.04 453.93L113.65 454.07L114.70 454.99L114.40 456.36L115.60 455.65L116.80 456.36L116.50 454.99L117.55 454.07L116.16 453.93ZM120.00 452.65L119.44 453.93L118.05 454.07L119.10 454.99L118.80 456.36L120.00 455.65L121.20 456.36L120.90 454.99L121.95 454.07L120.56 453.93Z" fill="#151515" stroke="#151515" stroke-width="0.3" stroke-linejoin="round"/></g>
<g><text x="259.9" y="433.80" font-size="19.3" fill="#000">H</text><path d="M349.00 551.89L398.50 548.46M349.00 534.54L398.50 482.82M349.00 553.47L398.50 481.10M349.00 548.74L398.50 557.98M349.00 512.70L398.50 513.78M349.00 519.09L398.50 498.30M349.00 568.24L398.50 518.43M349.00 503.78L398.50 534.54M349.00 503.78L398.50 491.42M349.00 511.10L398.50 486.26M349.00 545.58L398.50 479.38M349.00 517.49L398.50 510.34M349.00 547.16L398.50 512.06M349.00 542.43L398.50 489.70M349.00 522.29L398.50 496.58M349.00 550.32L398.50 487.98M349.00 527.08L398.50 506.90M349.00 528.68L398.50 531.24M349.00 502.31L398.50 544.80M349.00 481.07L398.50 486.20M349.00 499.38L398.50 556.51M349.00 523.89L398.50 505.18M349.00 496.45L398.50 494.86M349.00 525.75L398.50 467.15M349.00 478.14L398.50 473.01M349.00 514.30L398.50 475.94M349.00 500.11L398.50 484.54M349.00 539.27L398.50 500.02M349.00 537.70L398.50 493.14M349.00 520.69L398.50 477.66M349.00 511.10L398.50 464.22M349.00 515.89L398.50 503.46M349.00 506.71L398.50 559.45M349.00 525.48L398.50 535.27M349.00 496.45L398.50 459.82M349.00 555.05L398.50 527.22M349.00 536.12L398.50 508.62M349.00 496.45L398.50 547.73M349.00 540.85L398.50 501.74M349.00 584.79L398.50 509.64M349.00 484.00L398.50 516.96M349.00 544.01L398.50 515.50" stroke="#000" stroke-width="1.35" fill="none"/><g fill="#48b9d9"><circle cx="349.00" cy="551.89" r="3.3"/><circle cx="349.00" cy="534.54" r="3.3"/><circle cx="349.00" cy="553.47" r="3.3"/><circle cx="349.00" cy="548.74" r="3.3"/><circle cx="349.00" cy="512.70" r="3.3"/><circle cx="349.00" cy="519.09" r="3.3"/><circle cx="349.00" cy="568.24" r="3.3"/><circle cx="349.00" cy="503.78" r="3.3"/><circle cx="349.00" cy="503.78" r="3.3"/><circle cx="349.00" cy="511.10" r="3.3"/><circle cx="349.00" cy="545.58" r="3.3"/><circle cx="349.00" cy="517.49" r="3.3"/><circle cx="349.00" cy="547.16" r="3.3"/><circle cx="349.00" cy="542.43" r="3.3"/><circle cx="349.00" cy="522.29" r="3.3"/><circle cx="349.00" cy="550.32" r="3.3"/><circle cx="349.00" cy="527.08" r="3.3"/><circle cx="349.00" cy="528.68" r="3.3"/><circle cx="349.00" cy="502.31" r="3.3"/><circle cx="349.00" cy="481.07" r="3.3"/><circle cx="349.00" cy="499.38" r="3.3"/><circle cx="349.00" cy="523.89" r="3.3"/><circle cx="349.00" cy="496.45" r="3.3"/><circle cx="349.00" cy="525.75" r="3.3"/><circle cx="349.00" cy="478.14" r="3.3"/><circle cx="349.00" cy="514.30" r="3.3"/><circle cx="349.00" cy="500.11" r="3.3"/><circle cx="349.00" cy="539.27" r="3.3"/><circle cx="349.00" cy="537.70" r="3.3"/><circle cx="349.00" cy="520.69" r="3.3"/><circle cx="349.00" cy="511.10" r="3.3"/><circle cx="349.00" cy="515.89" r="3.3"/><circle cx="349.00" cy="506.71" r="3.3"/><circle cx="349.00" cy="525.48" r="3.3"/><circle cx="349.00" cy="496.45" r="3.3"/><circle cx="349.00" cy="555.05" r="3.3"/><circle cx="349.00" cy="536.12" r="3.3"/><circle cx="349.00" cy="496.45" r="3.3"/><circle cx="349.00" cy="540.85" r="3.3"/><circle cx="349.00" cy="584.79" r="3.3"/><circle cx="349.00" cy="484.00" r="3.3"/><circle cx="349.00" cy="544.01" r="3.3"/></g><g fill="#e94b35"><circle cx="398.50" cy="548.46" r="3.3"/><circle cx="398.50" cy="482.82" r="3.3"/><circle cx="398.50" cy="481.10" r="3.3"/><circle cx="398.50" cy="557.98" r="3.3"/><circle cx="398.50" cy="513.78" r="3.3"/><circle cx="398.50" cy="498.30" r="3.3"/><circle cx="398.50" cy="518.43" r="3.3"/><circle cx="398.50" cy="534.54" r="3.3"/><circle cx="398.50" cy="491.42" r="3.3"/><circle cx="398.50" cy="486.26" r="3.3"/><circle cx="398.50" cy="479.38" r="3.3"/><circle cx="398.50" cy="510.34" r="3.3"/><circle cx="398.50" cy="512.06" r="3.3"/><circle cx="398.50" cy="489.70" r="3.3"/><circle cx="398.50" cy="496.58" r="3.3"/><circle cx="398.50" cy="487.98" r="3.3"/><circle cx="398.50" cy="506.90" r="3.3"/><circle cx="398.50" cy="531.24" r="3.3"/><circle cx="398.50" cy="544.80" r="3.3"/><circle cx="398.50" cy="486.20" r="3.3"/><circle cx="398.50" cy="556.51" r="3.3"/><circle cx="398.50" cy="505.18" r="3.3"/><circle cx="398.50" cy="494.86" r="3.3"/><circle cx="398.50" cy="467.15" r="3.3"/><circle cx="398.50" cy="473.01" r="3.3"/><circle cx="398.50" cy="475.94" r="3.3"/><circle cx="398.50" cy="484.54" r="3.3"/><circle cx="398.50" cy="500.02" r="3.3"/><circle cx="398.50" cy="493.14" r="3.3"/><circle cx="398.50" cy="477.66" r="3.3"/><circle cx="398.50" cy="464.22" r="3.3"/><circle cx="398.50" cy="503.46" r="3.3"/><circle cx="398.50" cy="559.45" r="3.3"/><circle cx="398.50" cy="535.27" r="3.3"/><circle cx="398.50" cy="459.82" r="3.3"/><circle cx="398.50" cy="527.22" r="3.3"/><circle cx="398.50" cy="508.62" r="3.3"/><circle cx="398.50" cy="547.73" r="3.3"/><circle cx="398.50" cy="501.74" r="3.3"/><circle cx="398.50" cy="509.64" r="3.3"/><circle cx="398.50" cy="516.96" r="3.3"/><circle cx="398.50" cy="515.50" r="3.3"/></g><path d="M319.80 449.90V590.90H428.00" fill="none" stroke="#151515" stroke-width="1.45"/><path d="M314.80 569.70H319.80M314.80 540.40H319.80M314.80 511.10H319.80M314.80 481.80H319.80M314.80 452.50H319.80M349.00 590.90V595.60M398.50 590.90V595.60" stroke="#151515" stroke-width="1.35" fill="none"/><text x="304.90" y="574.00" font-size="10.6">4</text><text x="304.90" y="545.00" font-size="10.6">6</text><text x="304.90" y="515.00" font-size="10.6">8</text><text x="304.90" y="486.00" font-size="10.6">0</text><path d="M302.96 486.00L302.03 486.00L302.03 480.32L301.69 480.62L301.14 480.93L300.59 481.24L300.16 481.39L300.16 480.53L300.95 480.18L301.53 479.68L302.12 479.18L302.36 478.71L302.96 478.71Z" class="one"/><text x="304.90" y="457.00" font-size="10.6">2</text><path d="M302.96 457.00L302.03 457.00L302.03 451.32L301.69 451.62L301.14 451.93L300.59 452.24L300.16 452.39L300.16 451.53L300.95 451.18L301.53 450.68L302.12 450.18L302.36 449.71L302.96 449.71Z" class="one"/><text x="349.00" y="607.70" font-size="10.8" text-anchor="middle" fill="#151515" style="font-kerning:normal">Normal</text><text x="398.50" y="607.70" font-size="10.8" text-anchor="middle" fill="#151515" style="font-kerning:normal">Tumor</text><g transform="translate(275.40 520.30) rotate(-90)"><text x="-67.93" y="0.00" font-size="12.6">The expression of LCN2</text></g><g transform="translate(287.80 520.30) rotate(-90)"><text x="-39.86" y="0.00" font-size="12.6">Log</text><text x="-18.84" y="3.90" font-size="10.5">2</text><text x="-13.00" y="0.00" font-size="12.6"> (TPM+</text><text x="35.66" y="0.00" font-size="12.6">)</text><path d="M33.35 0.00L32.24 0.00L32.24 -6.75L31.84 -6.39L31.19 -6.02L30.54 -5.66L30.03 -5.48L30.03 -6.50L30.96 -6.92L31.65 -7.51L32.35 -8.11L32.64 -8.67L33.35 -8.67Z" class="one"/></g><path d="M349.00 458.80V455.80H398.50V458.80" fill="none" stroke="#151515" stroke-width="1.4"/><path d="M369.35 450.55L368.79 451.83L367.40 451.97L368.45 452.89L368.15 454.26L369.35 453.55L370.55 454.26L370.25 452.89L371.30 451.97L369.91 451.83ZM373.75 450.55L373.19 451.83L371.80 451.97L372.85 452.89L372.55 454.26L373.75 453.55L374.95 454.26L374.65 452.89L375.70 451.97L374.31 451.83ZM378.15 450.55L377.59 451.83L376.20 451.97L377.25 452.89L376.95 454.26L378.15 453.55L379.35 454.26L379.05 452.89L380.10 451.97L378.71 451.83Z" fill="#151515" stroke="#151515" stroke-width="0.3" stroke-linejoin="round"/></g>
<g><text x="513.2" y="433.80" font-size="19.3" fill="#000">I</text><path d="M591.70 536.44L648.20 459.00M591.70 587.30L648.20 567.65M591.70 578.05L648.20 514.10M591.70 538.52L648.20 531.05M591.70 561.41L648.20 515.64M591.70 536.44L648.20 521.80M591.70 575.74L648.20 460.16M591.70 582.21L648.20 495.60M591.70 569.73L648.20 507.93M591.70 544.77L648.20 497.15M591.70 588.46L648.20 517.18M591.70 575.97L648.20 494.06M591.70 526.04L648.20 524.88M591.70 567.65L648.20 553.78M591.70 480.96L648.20 515.64M591.70 563.49L648.20 504.85M591.70 553.09L648.20 532.59M591.70 552.62L648.20 469.87M591.70 502.92L648.20 457.85M591.70 586.38L648.20 523.34M591.70 541.07L648.20 579.44M591.70 528.12L648.20 529.51M591.70 551.01L648.20 511.01M591.70 511.01L648.20 522.57M591.70 548.93L648.20 492.52M591.70 571.81L648.20 509.47M591.70 506.39L648.20 494.83M591.70 534.36L648.20 503.31M591.70 564.18L648.20 461.31M591.70 557.25L648.20 527.97M591.70 513.33L648.20 552.62M591.70 555.17L648.20 526.43M591.70 475.18L648.20 506.39M591.70 559.33L648.20 501.77M591.70 584.29L648.20 534.13M591.70 540.60L648.20 498.69M591.70 580.13L648.20 563.03M591.70 565.57L648.20 520.26M591.70 573.89L648.20 549.16M591.70 546.85L648.20 506.39M591.70 530.20L648.20 512.56M591.70 532.28L648.20 500.23M591.70 542.68L648.20 518.72" stroke="#000" stroke-width="1.35" fill="none"/><g fill="#48b9d9"><circle cx="591.70" cy="536.44" r="3.3"/><circle cx="591.70" cy="587.30" r="3.3"/><circle cx="591.70" cy="578.05" r="3.3"/><circle cx="591.70" cy="538.52" r="3.3"/><circle cx="591.70" cy="561.41" r="3.3"/><circle cx="591.70" cy="536.44" r="3.3"/><circle cx="591.70" cy="575.74" r="3.3"/><circle cx="591.70" cy="582.21" r="3.3"/><circle cx="591.70" cy="569.73" r="3.3"/><circle cx="591.70" cy="544.77" r="3.3"/><circle cx="591.70" cy="588.46" r="3.3"/><circle cx="591.70" cy="575.97" r="3.3"/><circle cx="591.70" cy="526.04" r="3.3"/><circle cx="591.70" cy="567.65" r="3.3"/><circle cx="591.70" cy="480.96" r="3.3"/><circle cx="591.70" cy="563.49" r="3.3"/><circle cx="591.70" cy="553.09" r="3.3"/><circle cx="591.70" cy="552.62" r="3.3"/><circle cx="591.70" cy="502.92" r="3.3"/><circle cx="591.70" cy="586.38" r="3.3"/><circle cx="591.70" cy="541.07" r="3.3"/><circle cx="591.70" cy="528.12" r="3.3"/><circle cx="591.70" cy="551.01" r="3.3"/><circle cx="591.70" cy="511.01" r="3.3"/><circle cx="591.70" cy="548.93" r="3.3"/><circle cx="591.70" cy="571.81" r="3.3"/><circle cx="591.70" cy="506.39" r="3.3"/><circle cx="591.70" cy="534.36" r="3.3"/><circle cx="591.70" cy="564.18" r="3.3"/><circle cx="591.70" cy="557.25" r="3.3"/><circle cx="591.70" cy="513.33" r="3.3"/><circle cx="591.70" cy="555.17" r="3.3"/><circle cx="591.70" cy="475.18" r="3.3"/><circle cx="591.70" cy="559.33" r="3.3"/><circle cx="591.70" cy="584.29" r="3.3"/><circle cx="591.70" cy="540.60" r="3.3"/><circle cx="591.70" cy="580.13" r="3.3"/><circle cx="591.70" cy="565.57" r="3.3"/><circle cx="591.70" cy="573.89" r="3.3"/><circle cx="591.70" cy="546.85" r="3.3"/><circle cx="591.70" cy="530.20" r="3.3"/><circle cx="591.70" cy="532.28" r="3.3"/><circle cx="591.70" cy="542.68" r="3.3"/></g><g fill="#e94b35"><circle cx="648.20" cy="459.00" r="3.3"/><circle cx="648.20" cy="567.65" r="3.3"/><circle cx="648.20" cy="514.10" r="3.3"/><circle cx="648.20" cy="531.05" r="3.3"/><circle cx="648.20" cy="515.64" r="3.3"/><circle cx="648.20" cy="521.80" r="3.3"/><circle cx="648.20" cy="460.16" r="3.3"/><circle cx="648.20" cy="495.60" r="3.3"/><circle cx="648.20" cy="507.93" r="3.3"/><circle cx="648.20" cy="497.15" r="3.3"/><circle cx="648.20" cy="517.18" r="3.3"/><circle cx="648.20" cy="494.06" r="3.3"/><circle cx="648.20" cy="524.88" r="3.3"/><circle cx="648.20" cy="553.78" r="3.3"/><circle cx="648.20" cy="515.64" r="3.3"/><circle cx="648.20" cy="504.85" r="3.3"/><circle cx="648.20" cy="532.59" r="3.3"/><circle cx="648.20" cy="469.87" r="3.3"/><circle cx="648.20" cy="457.85" r="3.3"/><circle cx="648.20" cy="523.34" r="3.3"/><circle cx="648.20" cy="579.44" r="3.3"/><circle cx="648.20" cy="529.51" r="3.3"/><circle cx="648.20" cy="511.01" r="3.3"/><circle cx="648.20" cy="522.57" r="3.3"/><circle cx="648.20" cy="492.52" r="3.3"/><circle cx="648.20" cy="509.47" r="3.3"/><circle cx="648.20" cy="494.83" r="3.3"/><circle cx="648.20" cy="503.31" r="3.3"/><circle cx="648.20" cy="461.31" r="3.3"/><circle cx="648.20" cy="527.97" r="3.3"/><circle cx="648.20" cy="552.62" r="3.3"/><circle cx="648.20" cy="526.43" r="3.3"/><circle cx="648.20" cy="506.39" r="3.3"/><circle cx="648.20" cy="501.77" r="3.3"/><circle cx="648.20" cy="534.13" r="3.3"/><circle cx="648.20" cy="498.69" r="3.3"/><circle cx="648.20" cy="563.03" r="3.3"/><circle cx="648.20" cy="520.26" r="3.3"/><circle cx="648.20" cy="549.16" r="3.3"/><circle cx="648.20" cy="506.39" r="3.3"/><circle cx="648.20" cy="512.56" r="3.3"/><circle cx="648.20" cy="500.23" r="3.3"/><circle cx="648.20" cy="518.72" r="3.3"/></g><path d="M558.10 446.00V596.30H681.00" fill="none" stroke="#151515" stroke-width="1.45"/><path d="M553.10 587.30H558.10M553.10 564.18H558.10M553.10 541.07H558.10M553.10 517.95H558.10M553.10 494.83H558.10M553.10 471.72H558.10M553.10 448.60H558.10M591.70 596.30V601.00M648.20 596.30V601.00" stroke="#151515" stroke-width="1.35" fill="none"/><path d="M547.15 591.00L546.22 591.00L546.22 585.32L545.89 585.62L545.34 585.93L544.79 586.24L544.36 586.39L544.36 585.53L545.14 585.18L545.73 584.68L546.31 584.18L546.55 583.71L547.15 583.71Z" class="one"/><text x="543.20" y="568.00" font-size="10.6">2</text><text x="543.20" y="545.00" font-size="10.6">3</text><text x="543.20" y="522.00" font-size="10.6">4</text><text x="543.20" y="499.00" font-size="10.6">5</text><text x="543.20" y="476.00" font-size="10.6">6</text><text x="543.20" y="453.00" font-size="10.6">7</text><text x="591.70" y="613.10" font-size="10.8" text-anchor="middle" fill="#151515" style="font-kerning:normal">Normal</text><text x="648.20" y="613.10" font-size="10.8" text-anchor="middle" fill="#151515" style="font-kerning:normal">Tumor</text><g transform="translate(520.00 521.05) rotate(-90)"><text x="-64.79" y="0.00" font-size="12.6">The expression of IL</text><text x="56.38" y="0.00" font-size="12.6">B</text><path d="M54.07 0.00L52.96 0.00L52.96 -6.75L52.56 -6.39L51.91 -6.02L51.26 -5.66L50.75 -5.48L50.75 -6.50L51.68 -6.92L52.37 -7.51L53.07 -8.11L53.36 -8.67L54.07 -8.67Z" class="one"/></g><g transform="translate(532.40 521.05) rotate(-90)"><text x="-39.86" y="0.00" font-size="12.6">Log</text><text x="-18.84" y="3.90" font-size="10.5">2</text><text x="-13.00" y="0.00" font-size="12.6"> (TPM+</text><text x="35.66" y="0.00" font-size="12.6">)</text><path d="M33.35 0.00L32.24 0.00L32.24 -6.75L31.84 -6.39L31.19 -6.02L30.54 -5.66L30.03 -5.48L30.03 -6.50L30.96 -6.92L31.65 -7.51L32.35 -8.11L32.64 -8.67L33.35 -8.67Z" class="one"/></g><path d="M591.70 454.90V451.90H648.20V454.90" fill="none" stroke="#151515" stroke-width="1.4"/><path d="M615.55 446.65L614.99 447.93L613.60 448.07L614.65 448.99L614.35 450.36L615.55 449.65L616.75 450.36L616.45 448.99L617.50 448.07L616.11 447.93ZM619.95 446.65L619.39 447.93L618.00 448.07L619.05 448.99L618.75 450.36L619.95 449.65L621.15 450.36L620.85 448.99L621.90 448.07L620.51 447.93ZM624.35 446.65L623.79 447.93L622.40 448.07L623.45 448.99L623.15 450.36L624.35 449.65L625.55 450.36L625.25 448.99L626.30 448.07L624.91 447.93Z" fill="#151515" stroke="#151515" stroke-width="0.3" stroke-linejoin="round"/></g>
<g><text x="3.0" y="634.10" font-size="19.3" fill="#000">J</text><path d="M85.40 773.45L139.30 786.00M85.40 764.11L139.30 723.04M85.40 771.30L139.30 747.86M85.40 777.76L139.30 779.13M85.40 721.89L139.30 744.33M85.40 777.04L139.30 737.92M85.40 770.58L139.30 761.96M85.40 768.42L139.30 714.11M85.40 782.07L139.30 751.38M85.40 715.49L139.30 657.80M85.40 772.73L139.30 702.21M85.40 747.54L139.30 725.10M85.40 766.27L139.30 705.18M85.40 755.55L139.30 683.44M85.40 761.96L139.30 772.26M85.40 765.55L139.30 673.82M85.40 772.01L139.30 728.99M85.40 763.39L139.30 781.42M85.40 776.32L139.30 758.43M85.40 744.33L139.30 667.41M85.40 769.86L139.30 717.09M85.40 762.68L139.30 783.71M85.40 779.20L139.30 708.16M85.40 769.14L139.30 744.33M85.40 775.61L139.30 769.97M85.40 780.63L139.30 774.55M85.40 781.35L139.30 731.97M85.40 718.69L139.30 686.64M85.40 750.74L139.30 754.91M85.40 778.48L139.30 726.02M85.40 736.32L139.30 702.66M85.40 766.99L139.30 776.84M85.40 764.83L139.30 678.63M85.40 774.89L139.30 699.23M85.40 774.17L139.30 696.25M85.40 767.70L139.30 720.06M85.40 782.79L139.30 734.94M85.40 779.92L139.30 711.14" stroke="#000" stroke-width="1.35" fill="none"/><g fill="#48b9d9"><circle cx="85.40" cy="773.45" r="3.3"/><circle cx="85.40" cy="764.11" r="3.3"/><circle cx="85.40" cy="771.30" r="3.3"/><circle cx="85.40" cy="777.76" r="3.3"/><circle cx="85.40" cy="721.89" r="3.3"/><circle cx="85.40" cy="777.04" r="3.3"/><circle cx="85.40" cy="770.58" r="3.3"/><circle cx="85.40" cy="768.42" r="3.3"/><circle cx="85.40" cy="782.07" r="3.3"/><circle cx="85.40" cy="715.49" r="3.3"/><circle cx="85.40" cy="772.73" r="3.3"/><circle cx="85.40" cy="747.54" r="3.3"/><circle cx="85.40" cy="766.27" r="3.3"/><circle cx="85.40" cy="755.55" r="3.3"/><circle cx="85.40" cy="761.96" r="3.3"/><circle cx="85.40" cy="765.55" r="3.3"/><circle cx="85.40" cy="772.01" r="3.3"/><circle cx="85.40" cy="763.39" r="3.3"/><circle cx="85.40" cy="776.32" r="3.3"/><circle cx="85.40" cy="744.33" r="3.3"/><circle cx="85.40" cy="769.86" r="3.3"/><circle cx="85.40" cy="762.68" r="3.3"/><circle cx="85.40" cy="779.20" r="3.3"/><circle cx="85.40" cy="769.14" r="3.3"/><circle cx="85.40" cy="775.61" r="3.3"/><circle cx="85.40" cy="780.63" r="3.3"/><circle cx="85.40" cy="781.35" r="3.3"/><circle cx="85.40" cy="718.69" r="3.3"/><circle cx="85.40" cy="750.74" r="3.3"/><circle cx="85.40" cy="778.48" r="3.3"/><circle cx="85.40" cy="736.32" r="3.3"/><circle cx="85.40" cy="766.99" r="3.3"/><circle cx="85.40" cy="764.83" r="3.3"/><circle cx="85.40" cy="774.89" r="3.3"/><circle cx="85.40" cy="774.17" r="3.3"/><circle cx="85.40" cy="767.70" r="3.3"/><circle cx="85.40" cy="782.79" r="3.3"/><circle cx="85.40" cy="779.92" r="3.3"/></g><g fill="#e94b35"><circle cx="139.30" cy="786.00" r="3.3"/><circle cx="139.30" cy="723.04" r="3.3"/><circle cx="139.30" cy="747.86" r="3.3"/><circle cx="139.30" cy="779.13" r="3.3"/><circle cx="139.30" cy="744.33" r="3.3"/><circle cx="139.30" cy="737.92" r="3.3"/><circle cx="139.30" cy="761.96" r="3.3"/><circle cx="139.30" cy="714.11" r="3.3"/><circle cx="139.30" cy="751.38" r="3.3"/><circle cx="139.30" cy="657.80" r="3.3"/><circle cx="139.30" cy="702.21" r="3.3"/><circle cx="139.30" cy="725.10" r="3.3"/><circle cx="139.30" cy="705.18" r="3.3"/><circle cx="139.30" cy="683.44" r="3.3"/><circle cx="139.30" cy="772.26" r="3.3"/><circle cx="139.30" cy="673.82" r="3.3"/><circle cx="139.30" cy="728.99" r="3.3"/><circle cx="139.30" cy="781.42" r="3.3"/><circle cx="139.30" cy="758.43" r="3.3"/><circle cx="139.30" cy="667.41" r="3.3"/><circle cx="139.30" cy="717.09" r="3.3"/><circle cx="139.30" cy="783.71" r="3.3"/><circle cx="139.30" cy="708.16" r="3.3"/><circle cx="139.30" cy="744.33" r="3.3"/><circle cx="139.30" cy="769.97" r="3.3"/><circle cx="139.30" cy="774.55" r="3.3"/><circle cx="139.30" cy="731.97" r="3.3"/><circle cx="139.30" cy="686.64" r="3.3"/><circle cx="139.30" cy="754.91" r="3.3"/><circle cx="139.30" cy="726.02" r="3.3"/><circle cx="139.30" cy="702.66" r="3.3"/><circle cx="139.30" cy="776.84" r="3.3"/><circle cx="139.30" cy="678.63" r="3.3"/><circle cx="139.30" cy="699.23" r="3.3"/><circle cx="139.30" cy="696.25" r="3.3"/><circle cx="139.30" cy="720.06" r="3.3"/><circle cx="139.30" cy="734.94" r="3.3"/><circle cx="139.30" cy="711.14" r="3.3"/></g><path d="M53.20 647.30V792.50H171.30" fill="none" stroke="#151515" stroke-width="1.45"/><path d="M48.20 789.20H53.20M48.20 757.15H53.20M48.20 725.10H53.20M48.20 693.05H53.20M48.20 661.00H53.20M85.40 792.50V797.20M139.30 792.50V797.20" stroke="#151515" stroke-width="1.35" fill="none"/><text x="38.30" y="793.00" font-size="10.6">0</text><path d="M42.25 761.00L41.32 761.00L41.32 755.32L40.99 755.62L40.44 755.93L39.89 756.24L39.46 756.39L39.46 755.53L40.24 755.18L40.83 754.68L41.41 754.18L41.65 753.71L42.25 753.71Z" class="one"/><text x="38.30" y="729.00" font-size="10.6">2</text><text x="38.30" y="697.00" font-size="10.6">3</text><text x="38.30" y="665.00" font-size="10.6">4</text><text x="85.40" y="809.30" font-size="10.8" text-anchor="middle" fill="#151515" style="font-kerning:normal">Normal</text><text x="139.30" y="809.30" font-size="10.8" text-anchor="middle" fill="#151515" style="font-kerning:normal">Tumor</text><g transform="translate(15.10 719.80) rotate(-90)"><text x="-72.14" y="0.00" font-size="12.6">The expression of CXCL6</text></g><g transform="translate(27.50 719.80) rotate(-90)"><text x="-39.86" y="0.00" font-size="12.6">Log</text><text x="-18.84" y="3.90" font-size="10.5">2</text><text x="-13.00" y="0.00" font-size="12.6"> (TPM+</text><text x="35.66" y="0.00" font-size="12.6">)</text><path d="M33.35 0.00L32.24 0.00L32.24 -6.75L31.84 -6.39L31.19 -6.02L30.54 -5.66L30.03 -5.48L30.03 -6.50L30.96 -6.92L31.65 -7.51L32.35 -8.11L32.64 -8.67L33.35 -8.67Z" class="one"/></g><path d="M85.40 657.00V654.00H139.30V657.00" fill="none" stroke="#151515" stroke-width="1.4"/><path d="M107.95 648.75L107.39 650.03L106.00 650.17L107.05 651.09L106.75 652.46L107.95 651.75L109.15 652.46L108.85 651.09L109.90 650.17L108.51 650.03ZM112.35 648.75L111.79 650.03L110.40 650.17L111.45 651.09L111.15 652.46L112.35 651.75L113.55 652.46L113.25 651.09L114.30 650.17L112.91 650.03ZM116.75 648.75L116.19 650.03L114.80 650.17L115.85 651.09L115.55 652.46L116.75 651.75L117.95 652.46L117.65 651.09L118.70 650.17L117.31 650.03Z" fill="#151515" stroke="#151515" stroke-width="0.3" stroke-linejoin="round"/></g>
<g><text x="259.9" y="634.10" font-size="19.3" fill="#000">K</text><path d="M348.50 746.02L398.80 719.09M348.50 723.58L398.80 716.20M348.50 679.57L398.80 699.67M348.50 730.48L398.80 720.54M348.50 758.10L398.80 711.86M348.50 718.40L398.80 703.18M348.50 732.21L398.80 700.28M348.50 728.76L398.80 724.88M348.50 761.55L398.80 691.60M348.50 733.94L398.80 697.39M348.50 686.27L398.80 694.65M348.50 740.84L398.80 698.84M348.50 714.95L398.80 682.92M348.50 759.82L398.80 714.75M348.50 741.55L398.80 671.20M348.50 752.92L398.80 708.96M348.50 739.11L398.80 729.22M348.50 742.57L398.80 690.16M348.50 720.13L398.80 721.98M348.50 682.92L398.80 783.09M348.50 708.05L398.80 687.26M348.50 724.80L398.80 675.39M348.50 709.78L398.80 694.50M348.50 765.00L398.80 717.64M348.50 758.30L398.80 658.13M348.50 721.86L398.80 713.30M348.50 754.65L398.80 726.32M348.50 713.23L398.80 695.94M348.50 735.66L398.80 685.82M348.50 744.29L398.80 727.77M348.50 747.74L398.80 730.66M348.50 716.68L398.80 704.62M348.50 737.39L398.80 684.37M348.50 763.27L398.80 710.41M348.50 727.03L398.80 701.73M348.50 756.37L398.80 707.52M348.50 725.31L398.80 723.43M348.50 676.22L398.80 681.25M348.50 749.47L398.80 693.05M348.50 751.19L398.80 706.07M348.50 711.50L398.80 688.71" stroke="#000" stroke-width="1.35" fill="none"/><g fill="#48b9d9"><circle cx="348.50" cy="746.02" r="3.3"/><circle cx="348.50" cy="723.58" r="3.3"/><circle cx="348.50" cy="679.57" r="3.3"/><circle cx="348.50" cy="730.48" r="3.3"/><circle cx="348.50" cy="758.10" r="3.3"/><circle cx="348.50" cy="718.40" r="3.3"/><circle cx="348.50" cy="732.21" r="3.3"/><circle cx="348.50" cy="728.76" r="3.3"/><circle cx="348.50" cy="761.55" r="3.3"/><circle cx="348.50" cy="733.94" r="3.3"/><circle cx="348.50" cy="686.27" r="3.3"/><circle cx="348.50" cy="740.84" r="3.3"/><circle cx="348.50" cy="714.95" r="3.3"/><circle cx="348.50" cy="759.82" r="3.3"/><circle cx="348.50" cy="741.55" r="3.3"/><circle cx="348.50" cy="752.92" r="3.3"/><circle cx="348.50" cy="739.11" r="3.3"/><circle cx="348.50" cy="742.57" r="3.3"/><circle cx="348.50" cy="720.13" r="3.3"/><circle cx="348.50" cy="682.92" r="3.3"/><circle cx="348.50" cy="708.05" r="3.3"/><circle cx="348.50" cy="724.80" r="3.3"/><circle cx="348.50" cy="709.78" r="3.3"/><circle cx="348.50" cy="765.00" r="3.3"/><circle cx="348.50" cy="758.30" r="3.3"/><circle cx="348.50" cy="721.86" r="3.3"/><circle cx="348.50" cy="754.65" r="3.3"/><circle cx="348.50" cy="713.23" r="3.3"/><circle cx="348.50" cy="735.66" r="3.3"/><circle cx="348.50" cy="744.29" r="3.3"/><circle cx="348.50" cy="747.74" r="3.3"/><circle cx="348.50" cy="716.68" r="3.3"/><circle cx="348.50" cy="737.39" r="3.3"/><circle cx="348.50" cy="763.27" r="3.3"/><circle cx="348.50" cy="727.03" r="3.3"/><circle cx="348.50" cy="756.37" r="3.3"/><circle cx="348.50" cy="725.31" r="3.3"/><circle cx="348.50" cy="676.22" r="3.3"/><circle cx="348.50" cy="749.47" r="3.3"/><circle cx="348.50" cy="751.19" r="3.3"/><circle cx="348.50" cy="711.50" r="3.3"/></g><g fill="#e94b35"><circle cx="398.80" cy="719.09" r="3.3"/><circle cx="398.80" cy="716.20" r="3.3"/><circle cx="398.80" cy="699.67" r="3.3"/><circle cx="398.80" cy="720.54" r="3.3"/><circle cx="398.80" cy="711.86" r="3.3"/><circle cx="398.80" cy="703.18" r="3.3"/><circle cx="398.80" cy="700.28" r="3.3"/><circle cx="398.80" cy="724.88" r="3.3"/><circle cx="398.80" cy="691.60" r="3.3"/><circle cx="398.80" cy="697.39" r="3.3"/><circle cx="398.80" cy="694.65" r="3.3"/><circle cx="398.80" cy="698.84" r="3.3"/><circle cx="398.80" cy="682.92" r="3.3"/><circle cx="398.80" cy="714.75" r="3.3"/><circle cx="398.80" cy="671.20" r="3.3"/><circle cx="398.80" cy="708.96" r="3.3"/><circle cx="398.80" cy="729.22" r="3.3"/><circle cx="398.80" cy="690.16" r="3.3"/><circle cx="398.80" cy="721.98" r="3.3"/><circle cx="398.80" cy="783.09" r="3.3"/><circle cx="398.80" cy="687.26" r="3.3"/><circle cx="398.80" cy="675.39" r="3.3"/><circle cx="398.80" cy="694.50" r="3.3"/><circle cx="398.80" cy="717.64" r="3.3"/><circle cx="398.80" cy="658.13" r="3.3"/><circle cx="398.80" cy="713.30" r="3.3"/><circle cx="398.80" cy="726.32" r="3.3"/><circle cx="398.80" cy="695.94" r="3.3"/><circle cx="398.80" cy="685.82" r="3.3"/><circle cx="398.80" cy="727.77" r="3.3"/><circle cx="398.80" cy="730.66" r="3.3"/><circle cx="398.80" cy="704.62" r="3.3"/><circle cx="398.80" cy="684.37" r="3.3"/><circle cx="398.80" cy="710.41" r="3.3"/><circle cx="398.80" cy="701.73" r="3.3"/><circle cx="398.80" cy="707.52" r="3.3"/><circle cx="398.80" cy="723.43" r="3.3"/><circle cx="398.80" cy="681.25" r="3.3"/><circle cx="398.80" cy="693.05" r="3.3"/><circle cx="398.80" cy="706.07" r="3.3"/><circle cx="398.80" cy="688.71" r="3.3"/></g><path d="M318.90 648.60V791.80H428.90" fill="none" stroke="#151515" stroke-width="1.45"/><path d="M313.90 791.80H318.90M313.90 758.30H318.90M313.90 724.80H318.90M313.90 691.30H318.90M313.90 657.80H318.90M348.50 791.80V796.50M398.80 791.80V796.50" stroke="#151515" stroke-width="1.35" fill="none"/><text x="304.00" y="796.00" font-size="10.6">2</text><text x="304.00" y="762.00" font-size="10.6">4</text><text x="304.00" y="729.00" font-size="10.6">6</text><text x="304.00" y="695.00" font-size="10.6">8</text><text x="304.00" y="662.00" font-size="10.6">0</text><path d="M302.06 662.00L301.13 662.00L301.13 656.32L300.79 656.62L300.24 656.93L299.69 657.24L299.26 657.39L299.26 656.53L300.05 656.18L300.63 655.68L301.22 655.18L301.46 654.71L302.06 654.71Z" class="one"/><text x="348.50" y="808.60" font-size="10.8" text-anchor="middle" fill="#151515" style="font-kerning:normal">Normal</text><text x="398.80" y="808.60" font-size="10.8" text-anchor="middle" fill="#151515" style="font-kerning:normal">Tumor</text><g transform="translate(274.50 720.10) rotate(-90)"><text x="-74.25" y="0.00" font-size="12.6">The expression of S</text><text x="44.82" y="0.00" font-size="12.6">00A9</text><path d="M42.51 0.00L41.40 0.00L41.40 -6.75L41.00 -6.39L40.35 -6.02L39.69 -5.66L39.18 -5.48L39.18 -6.50L40.11 -6.92L40.81 -7.51L41.50 -8.11L41.79 -8.67L42.51 -8.67Z" class="one"/></g><g transform="translate(286.90 720.10) rotate(-90)"><text x="-39.86" y="0.00" font-size="12.6">Log</text><text x="-18.84" y="3.90" font-size="10.5">2</text><text x="-13.00" y="0.00" font-size="12.6"> (TPM+</text><text x="35.66" y="0.00" font-size="12.6">)</text><path d="M33.35 0.00L32.24 0.00L32.24 -6.75L31.84 -6.39L31.19 -6.02L30.54 -5.66L30.03 -5.48L30.03 -6.50L30.96 -6.92L31.65 -7.51L32.35 -8.11L32.64 -8.67L33.35 -8.67Z" class="one"/></g><path d="M348.50 657.50V654.50H398.80V657.50" fill="none" stroke="#151515" stroke-width="1.4"/><path d="M369.25 649.25L368.69 650.53L367.30 650.67L368.35 651.59L368.05 652.96L369.25 652.25L370.45 652.96L370.15 651.59L371.20 650.67L369.81 650.53ZM373.65 649.25L373.09 650.53L371.70 650.67L372.75 651.59L372.45 652.96L373.65 652.25L374.85 652.96L374.55 651.59L375.60 650.67L374.21 650.53ZM378.05 649.25L377.49 650.53L376.10 650.67L377.15 651.59L376.85 652.96L378.05 652.25L379.25 652.96L378.95 651.59L380.00 650.67L378.61 650.53Z" fill="#151515" stroke="#151515" stroke-width="0.3" stroke-linejoin="round"/></g>
<g><text x="508.8" y="634.10" font-size="19.3" fill="#000">L</text><path d="M592.20 785.38L647.70 694.30M592.20 767.17L647.70 722.58M592.20 758.90L647.70 673.39M592.20 723.70L647.70 718.81M592.20 733.40L647.70 655.51M592.20 783.73L647.70 692.42M592.20 768.83L647.70 690.53M592.20 757.67L647.70 773.50M592.20 709.14L647.70 709.39M592.20 748.97L647.70 744.90M592.20 747.31L647.70 737.24M592.20 698.67L647.70 683.60M592.20 718.85L647.70 701.84M592.20 745.65L647.70 662.66M592.20 750.62L647.70 669.81M592.20 787.04L647.70 705.62M592.20 777.11L647.70 715.04M592.20 763.86L647.70 720.70M592.20 742.34L647.70 724.47M592.20 760.55L647.70 742.34M592.20 744.00L647.70 698.07M592.20 780.42L647.70 747.45M592.20 765.52L647.70 703.73M592.20 778.76L647.70 713.16M592.20 775.45L647.70 684.88M592.20 755.59L647.70 686.76M592.20 752.28L647.70 707.50M592.20 762.21L647.70 666.23M592.20 772.14L647.70 696.19M592.20 753.93L647.70 711.27M592.20 770.49L647.70 699.96M592.20 773.80L647.70 688.65M592.20 782.07L647.70 734.68M592.20 728.55L647.70 659.08M592.20 747.45L647.70 764.05M592.20 778.10L647.70 757.67M592.20 757.24L647.70 739.79M592.20 713.99L647.70 716.93M592.20 707.87L647.70 742.34" stroke="#000" stroke-width="1.35" fill="none"/><g fill="#48b9d9"><circle cx="592.20" cy="785.38" r="3.3"/><circle cx="592.20" cy="767.17" r="3.3"/><circle cx="592.20" cy="758.90" r="3.3"/><circle cx="592.20" cy="723.70" r="3.3"/><circle cx="592.20" cy="733.40" r="3.3"/><circle cx="592.20" cy="783.73" r="3.3"/><circle cx="592.20" cy="768.83" r="3.3"/><circle cx="592.20" cy="757.67" r="3.3"/><circle cx="592.20" cy="709.14" r="3.3"/><circle cx="592.20" cy="748.97" r="3.3"/><circle cx="592.20" cy="747.31" r="3.3"/><circle cx="592.20" cy="698.67" r="3.3"/><circle cx="592.20" cy="718.85" r="3.3"/><circle cx="592.20" cy="745.65" r="3.3"/><circle cx="592.20" cy="750.62" r="3.3"/><circle cx="592.20" cy="787.04" r="3.3"/><circle cx="592.20" cy="777.11" r="3.3"/><circle cx="592.20" cy="763.86" r="3.3"/><circle cx="592.20" cy="742.34" r="3.3"/><circle cx="592.20" cy="760.55" r="3.3"/><circle cx="592.20" cy="744.00" r="3.3"/><circle cx="592.20" cy="780.42" r="3.3"/><circle cx="592.20" cy="765.52" r="3.3"/><circle cx="592.20" cy="778.76" r="3.3"/><circle cx="592.20" cy="775.45" r="3.3"/><circle cx="592.20" cy="755.59" r="3.3"/><circle cx="592.20" cy="752.28" r="3.3"/><circle cx="592.20" cy="762.21" r="3.3"/><circle cx="592.20" cy="772.14" r="3.3"/><circle cx="592.20" cy="753.93" r="3.3"/><circle cx="592.20" cy="770.49" r="3.3"/><circle cx="592.20" cy="773.80" r="3.3"/><circle cx="592.20" cy="782.07" r="3.3"/><circle cx="592.20" cy="728.55" r="3.3"/><circle cx="592.20" cy="747.45" r="3.3"/><circle cx="592.20" cy="778.10" r="3.3"/><circle cx="592.20" cy="757.24" r="3.3"/><circle cx="592.20" cy="713.99" r="3.3"/><circle cx="592.20" cy="707.87" r="3.3"/></g><g fill="#e94b35"><circle cx="647.70" cy="694.30" r="3.3"/><circle cx="647.70" cy="722.58" r="3.3"/><circle cx="647.70" cy="673.39" r="3.3"/><circle cx="647.70" cy="718.81" r="3.3"/><circle cx="647.70" cy="655.51" r="3.3"/><circle cx="647.70" cy="692.42" r="3.3"/><circle cx="647.70" cy="690.53" r="3.3"/><circle cx="647.70" cy="773.50" r="3.3"/><circle cx="647.70" cy="709.39" r="3.3"/><circle cx="647.70" cy="744.90" r="3.3"/><circle cx="647.70" cy="737.24" r="3.3"/><circle cx="647.70" cy="683.60" r="3.3"/><circle cx="647.70" cy="701.84" r="3.3"/><circle cx="647.70" cy="662.66" r="3.3"/><circle cx="647.70" cy="669.81" r="3.3"/><circle cx="647.70" cy="705.62" r="3.3"/><circle cx="647.70" cy="715.04" r="3.3"/><circle cx="647.70" cy="720.70" r="3.3"/><circle cx="647.70" cy="724.47" r="3.3"/><circle cx="647.70" cy="742.34" r="3.3"/><circle cx="647.70" cy="698.07" r="3.3"/><circle cx="647.70" cy="747.45" r="3.3"/><circle cx="647.70" cy="703.73" r="3.3"/><circle cx="647.70" cy="713.16" r="3.3"/><circle cx="647.70" cy="684.88" r="3.3"/><circle cx="647.70" cy="686.76" r="3.3"/><circle cx="647.70" cy="707.50" r="3.3"/><circle cx="647.70" cy="666.23" r="3.3"/><circle cx="647.70" cy="696.19" r="3.3"/><circle cx="647.70" cy="711.27" r="3.3"/><circle cx="647.70" cy="699.96" r="3.3"/><circle cx="647.70" cy="688.65" r="3.3"/><circle cx="647.70" cy="734.68" r="3.3"/><circle cx="647.70" cy="659.08" r="3.3"/><circle cx="647.70" cy="764.05" r="3.3"/><circle cx="647.70" cy="757.67" r="3.3"/><circle cx="647.70" cy="739.79" r="3.3"/><circle cx="647.70" cy="716.93" r="3.3"/><circle cx="647.70" cy="742.34" r="3.3"/></g><path d="M558.90 646.00V794.70H680.50" fill="none" stroke="#151515" stroke-width="1.45"/><path d="M553.90 778.10H558.90M553.90 752.56H558.90M553.90 727.02H558.90M553.90 701.48H558.90M553.90 675.94H558.90M553.90 650.40H558.90M592.20 794.70V799.40M647.70 794.70V799.40" stroke="#151515" stroke-width="1.35" fill="none"/><path d="M547.95 782.00L547.02 782.00L547.02 776.32L546.69 776.62L546.14 776.93L545.59 777.24L545.16 777.39L545.16 776.53L545.94 776.18L546.53 775.68L547.11 775.18L547.35 774.71L547.95 774.71Z" class="one"/><text x="544.00" y="757.00" font-size="10.6">2</text><text x="544.00" y="731.00" font-size="10.6">3</text><text x="544.00" y="706.00" font-size="10.6">4</text><text x="544.00" y="680.00" font-size="10.6">5</text><text x="544.00" y="654.00" font-size="10.6">6</text><text x="592.20" y="811.50" font-size="10.8" text-anchor="middle" fill="#151515" style="font-kerning:normal">Normal</text><text x="647.70" y="811.50" font-size="10.8" text-anchor="middle" fill="#151515" style="font-kerning:normal">Tumor</text><g transform="translate(520.80 720.25) rotate(-90)"><text x="-69.68" y="0.00" font-size="12.6">The expression of IL</text><text x="51.49" y="0.00" font-size="12.6">RN</text><path d="M49.17 0.00L48.07 0.00L48.07 -6.75L47.67 -6.39L47.01 -6.02L46.36 -5.66L45.85 -5.48L45.85 -6.50L46.78 -6.92L47.47 -7.51L48.17 -8.11L48.46 -8.67L49.17 -8.67Z" class="one"/></g><g transform="translate(533.20 720.25) rotate(-90)"><text x="-39.86" y="0.00" font-size="12.6">Log</text><text x="-18.84" y="3.90" font-size="10.5">2</text><text x="-13.00" y="0.00" font-size="12.6"> (TPM+</text><text x="35.66" y="0.00" font-size="12.6">)</text><path d="M33.35 0.00L32.24 0.00L32.24 -6.75L31.84 -6.39L31.19 -6.02L30.54 -5.66L30.03 -5.48L30.03 -6.50L30.96 -6.92L31.65 -7.51L32.35 -8.11L32.64 -8.67L33.35 -8.67Z" class="one"/></g><path d="M592.20 654.90V651.90H647.70V654.90" fill="none" stroke="#151515" stroke-width="1.4"/><path d="M615.55 646.65L614.99 647.93L613.60 648.07L614.65 648.99L614.35 650.36L615.55 649.65L616.75 650.36L616.45 648.99L617.50 648.07L616.11 647.93ZM619.95 646.65L619.39 647.93L618.00 648.07L619.05 648.99L618.75 650.36L619.95 649.65L621.15 650.36L620.85 648.99L621.90 648.07L620.51 647.93ZM624.35 646.65L623.79 647.93L622.40 648.07L623.45 648.99L623.15 650.36L624.35 649.65L625.55 650.36L625.25 648.99L626.30 648.07L624.91 647.93Z" fill="#151515" stroke="#151515" stroke-width="0.3" stroke-linejoin="round"/></g>
<g><text x="2.1" y="832.50" font-size="19.3" fill="#000">M</text><path d="M85.40 986.81L139.30 929.43M85.40 985.73L139.30 928.12M85.40 955.49L139.30 930.73M85.40 956.57L139.30 924.20M85.40 987.89L139.30 946.41M85.40 983.57L139.30 962.35M85.40 941.82L139.30 941.18M85.40 970.61L139.30 979.18M85.40 969.53L139.30 945.10M85.40 966.29L139.30 914.27M85.40 979.25L139.30 926.81M85.40 978.17L139.30 974.82M85.40 981.41L139.30 970.46M85.40 936.31L139.30 957.84M85.40 984.65L139.30 922.89M85.40 982.49L139.30 950.33M85.40 971.69L139.30 932.04M85.40 980.33L139.30 949.02M85.40 947.33L139.30 935.96M85.40 973.85L139.30 938.57M85.40 930.80L139.30 907.51M85.40 968.45L139.30 960.10M85.40 964.13L139.30 909.76M85.40 963.05L139.30 925.51M85.40 957.65L139.30 933.35M85.40 961.97L139.30 894.74M85.40 953.34L139.30 939.88M85.40 965.21L139.30 920.28M85.40 894.74L139.30 908.26M85.40 972.77L139.30 912.02M85.40 962.35L139.30 988.49M85.40 935.31L139.30 972.87M85.40 959.81L139.30 942.49M85.40 977.09L139.30 934.65M85.40 974.93L139.30 943.80M85.40 967.37L139.30 905.25M85.40 867.39L139.30 977.38M85.40 977.38L139.30 884.82M85.40 976.01L139.30 947.72M85.40 898.94L139.30 914.27M85.40 958.73L139.30 896.24M85.40 960.89L139.30 921.59M85.40 954.41L139.30 937.26M85.40 921.18L139.30 861.38" stroke="#000" stroke-width="1.35" fill="none"/><g fill="#48b9d9"><circle cx="85.40" cy="986.81" r="3.3"/><circle cx="85.40" cy="985.73" r="3.3"/><circle cx="85.40" cy="955.49" r="3.3"/><circle cx="85.40" cy="956.57" r="3.3"/><circle cx="85.40" cy="987.89" r="3.3"/><circle cx="85.40" cy="983.57" r="3.3"/><circle cx="85.40" cy="941.82" r="3.3"/><circle cx="85.40" cy="970.61" r="3.3"/><circle cx="85.40" cy="969.53" r="3.3"/><circle cx="85.40" cy="966.29" r="3.3"/><circle cx="85.40" cy="979.25" r="3.3"/><circle cx="85.40" cy="978.17" r="3.3"/><circle cx="85.40" cy="981.41" r="3.3"/><circle cx="85.40" cy="936.31" r="3.3"/><circle cx="85.40" cy="984.65" r="3.3"/><circle cx="85.40" cy="982.49" r="3.3"/><circle cx="85.40" cy="971.69" r="3.3"/><circle cx="85.40" cy="980.33" r="3.3"/><circle cx="85.40" cy="947.33" r="3.3"/><circle cx="85.40" cy="973.85" r="3.3"/><circle cx="85.40" cy="930.80" r="3.3"/><circle cx="85.40" cy="968.45" r="3.3"/><circle cx="85.40" cy="964.13" r="3.3"/><circle cx="85.40" cy="963.05" r="3.3"/><circle cx="85.40" cy="957.65" r="3.3"/><circle cx="85.40" cy="961.97" r="3.3"/><circle cx="85.40" cy="953.34" r="3.3"/><circle cx="85.40" cy="965.21" r="3.3"/><circle cx="85.40" cy="894.74" r="3.3"/><circle cx="85.40" cy="972.77" r="3.3"/><circle cx="85.40" cy="962.35" r="3.3"/><circle cx="85.40" cy="935.31" r="3.3"/><circle cx="85.40" cy="959.81" r="3.3"/><circle cx="85.40" cy="977.09" r="3.3"/><circle cx="85.40" cy="974.93" r="3.3"/><circle cx="85.40" cy="967.37" r="3.3"/><circle cx="85.40" cy="867.39" r="3.3"/><circle cx="85.40" cy="977.38" r="3.3"/><circle cx="85.40" cy="976.01" r="3.3"/><circle cx="85.40" cy="898.94" r="3.3"/><circle cx="85.40" cy="958.73" r="3.3"/><circle cx="85.40" cy="960.89" r="3.3"/><circle cx="85.40" cy="954.41" r="3.3"/><circle cx="85.40" cy="921.18" r="3.3"/></g><g fill="#e94b35"><circle cx="139.30" cy="929.43" r="3.3"/><circle cx="139.30" cy="928.12" r="3.3"/><circle cx="139.30" cy="930.73" r="3.3"/><circle cx="139.30" cy="924.20" r="3.3"/><circle cx="139.30" cy="946.41" r="3.3"/><circle cx="139.30" cy="962.35" r="3.3"/><circle cx="139.30" cy="941.18" r="3.3"/><circle cx="139.30" cy="979.18" r="3.3"/><circle cx="139.30" cy="945.10" r="3.3"/><circle cx="139.30" cy="914.27" r="3.3"/><circle cx="139.30" cy="926.81" r="3.3"/><circle cx="139.30" cy="974.82" r="3.3"/><circle cx="139.30" cy="970.46" r="3.3"/><circle cx="139.30" cy="957.84" r="3.3"/><circle cx="139.30" cy="922.89" r="3.3"/><circle cx="139.30" cy="950.33" r="3.3"/><circle cx="139.30" cy="932.04" r="3.3"/><circle cx="139.30" cy="949.02" r="3.3"/><circle cx="139.30" cy="935.96" r="3.3"/><circle cx="139.30" cy="938.57" r="3.3"/><circle cx="139.30" cy="907.51" r="3.3"/><circle cx="139.30" cy="960.10" r="3.3"/><circle cx="139.30" cy="909.76" r="3.3"/><circle cx="139.30" cy="925.51" r="3.3"/><circle cx="139.30" cy="933.35" r="3.3"/><circle cx="139.30" cy="894.74" r="3.3"/><circle cx="139.30" cy="939.88" r="3.3"/><circle cx="139.30" cy="920.28" r="3.3"/><circle cx="139.30" cy="908.26" r="3.3"/><circle cx="139.30" cy="912.02" r="3.3"/><circle cx="139.30" cy="988.49" r="3.3"/><circle cx="139.30" cy="972.87" r="3.3"/><circle cx="139.30" cy="942.49" r="3.3"/><circle cx="139.30" cy="934.65" r="3.3"/><circle cx="139.30" cy="943.80" r="3.3"/><circle cx="139.30" cy="905.25" r="3.3"/><circle cx="139.30" cy="977.38" r="3.3"/><circle cx="139.30" cy="884.82" r="3.3"/><circle cx="139.30" cy="947.72" r="3.3"/><circle cx="139.30" cy="914.27" r="3.3"/><circle cx="139.30" cy="896.24" r="3.3"/><circle cx="139.30" cy="921.59" r="3.3"/><circle cx="139.30" cy="937.26" r="3.3"/><circle cx="139.30" cy="861.38" r="3.3"/></g><path d="M53.20 851.20V996.30H171.30" fill="none" stroke="#151515" stroke-width="1.45"/><path d="M48.20 992.40H53.20M48.20 962.35H53.20M48.20 932.30H53.20M48.20 902.25H53.20M48.20 872.20H53.20M85.40 996.30V1001.00M139.30 996.30V1001.00" stroke="#151515" stroke-width="1.35" fill="none"/><text x="38.30" y="996.00" font-size="10.6">0</text><path d="M42.25 966.00L41.32 966.00L41.32 960.32L40.99 960.62L40.44 960.93L39.89 961.24L39.46 961.39L39.46 960.53L40.24 960.18L40.83 959.68L41.41 959.18L41.65 958.71L42.25 958.71Z" class="one"/><text x="38.30" y="936.00" font-size="10.6">2</text><text x="38.30" y="906.00" font-size="10.6">3</text><text x="38.30" y="876.00" font-size="10.6">4</text><text x="85.40" y="1013.10" font-size="10.8" text-anchor="middle" fill="#151515" style="font-kerning:normal">Normal</text><text x="139.30" y="1013.10" font-size="10.8" text-anchor="middle" fill="#151515" style="font-kerning:normal">Tumor</text><g transform="translate(15.10 923.65) rotate(-90)"><text x="-77.38" y="0.00" font-size="12.6">The expression of FCGR3B</text></g><g transform="translate(27.50 923.65) rotate(-90)"><text x="-39.86" y="0.00" font-size="12.6">Log</text><text x="-18.84" y="3.90" font-size="10.5">2</text><text x="-13.00" y="0.00" font-size="12.6"> (TPM+</text><text x="35.66" y="0.00" font-size="12.6">)</text><path d="M33.35 0.00L32.24 0.00L32.24 -6.75L31.84 -6.39L31.19 -6.02L30.54 -5.66L30.03 -5.48L30.03 -6.50L30.96 -6.92L31.65 -7.51L32.35 -8.11L32.64 -8.67L33.35 -8.67Z" class="one"/></g><path d="M85.40 860.30V857.30H139.30V860.30" fill="none" stroke="#151515" stroke-width="1.4"/><path d="M110.15 852.05L109.59 853.33L108.20 853.47L109.25 854.39L108.95 855.76L110.15 855.05L111.35 855.76L111.05 854.39L112.10 853.47L110.71 853.33ZM114.55 852.05L113.99 853.33L112.60 853.47L113.65 854.39L113.35 855.76L114.55 855.05L115.75 855.76L115.45 854.39L116.50 853.47L115.11 853.33Z" fill="#151515" stroke="#151515" stroke-width="0.3" stroke-linejoin="round"/></g>
<g><text x="259.9" y="832.50" font-size="19.3" fill="#000">N</text><path d="M343.80 950.41L397.10 954.86M343.80 966.18L397.10 908.38M343.80 884.40L397.10 911.80M343.80 925.17L397.10 875.13M343.80 937.79L397.10 910.77M343.80 922.01L397.10 873.44M343.80 959.87L397.10 886.93M343.80 939.37L397.10 948.40M343.80 917.28L397.10 876.81M343.80 929.90L397.10 923.44M343.80 940.94L397.10 903.58M343.80 942.52L397.10 881.87M343.80 926.75L397.10 930.29M343.80 948.83L397.10 941.94M343.80 966.60L397.10 861.11M343.80 906.32L397.10 988.52M343.80 958.30L397.10 905.98M343.80 877.55L397.10 865.22M343.80 903.58L397.10 946.25M343.80 969.34L397.10 957.01M343.80 955.14L397.10 891.99M343.80 967.76L397.10 895.36M343.80 936.21L397.10 888.62M343.80 928.32L397.10 952.70M343.80 951.99L397.10 883.56M343.80 931.48L397.10 950.55M343.80 961.45L397.10 933.72M343.80 923.59L397.10 920.02M343.80 963.03L397.10 932.01M343.80 933.06L397.10 890.30M343.80 953.56L397.10 921.73M343.80 945.68L397.10 925.16M343.80 910.43L397.10 885.24M343.80 920.44L397.10 913.17M343.80 956.72L397.10 926.87M343.80 964.61L397.10 878.50M343.80 947.25L397.10 880.18M343.80 934.63L397.10 944.09M343.80 944.10L397.10 928.58M343.80 918.86L397.10 893.67M343.80 896.73L397.10 933.72M343.80 952.90L397.10 972.90M343.80 880.29L397.10 925.50" stroke="#000" stroke-width="1.35" fill="none"/><g fill="#48b9d9"><circle cx="343.80" cy="950.41" r="3.3"/><circle cx="343.80" cy="966.18" r="3.3"/><circle cx="343.80" cy="884.40" r="3.3"/><circle cx="343.80" cy="925.17" r="3.3"/><circle cx="343.80" cy="937.79" r="3.3"/><circle cx="343.80" cy="922.01" r="3.3"/><circle cx="343.80" cy="959.87" r="3.3"/><circle cx="343.80" cy="939.37" r="3.3"/><circle cx="343.80" cy="917.28" r="3.3"/><circle cx="343.80" cy="929.90" r="3.3"/><circle cx="343.80" cy="940.94" r="3.3"/><circle cx="343.80" cy="942.52" r="3.3"/><circle cx="343.80" cy="926.75" r="3.3"/><circle cx="343.80" cy="948.83" r="3.3"/><circle cx="343.80" cy="966.60" r="3.3"/><circle cx="343.80" cy="906.32" r="3.3"/><circle cx="343.80" cy="958.30" r="3.3"/><circle cx="343.80" cy="877.55" r="3.3"/><circle cx="343.80" cy="903.58" r="3.3"/><circle cx="343.80" cy="969.34" r="3.3"/><circle cx="343.80" cy="955.14" r="3.3"/><circle cx="343.80" cy="967.76" r="3.3"/><circle cx="343.80" cy="936.21" r="3.3"/><circle cx="343.80" cy="928.32" r="3.3"/><circle cx="343.80" cy="951.99" r="3.3"/><circle cx="343.80" cy="931.48" r="3.3"/><circle cx="343.80" cy="961.45" r="3.3"/><circle cx="343.80" cy="923.59" r="3.3"/><circle cx="343.80" cy="963.03" r="3.3"/><circle cx="343.80" cy="933.06" r="3.3"/><circle cx="343.80" cy="953.56" r="3.3"/><circle cx="343.80" cy="945.68" r="3.3"/><circle cx="343.80" cy="910.43" r="3.3"/><circle cx="343.80" cy="920.44" r="3.3"/><circle cx="343.80" cy="956.72" r="3.3"/><circle cx="343.80" cy="964.61" r="3.3"/><circle cx="343.80" cy="947.25" r="3.3"/><circle cx="343.80" cy="934.63" r="3.3"/><circle cx="343.80" cy="944.10" r="3.3"/><circle cx="343.80" cy="918.86" r="3.3"/><circle cx="343.80" cy="896.73" r="3.3"/><circle cx="343.80" cy="952.90" r="3.3"/><circle cx="343.80" cy="880.29" r="3.3"/></g><g fill="#e94b35"><circle cx="397.10" cy="954.86" r="3.3"/><circle cx="397.10" cy="908.38" r="3.3"/><circle cx="397.10" cy="911.80" r="3.3"/><circle cx="397.10" cy="875.13" r="3.3"/><circle cx="397.10" cy="910.77" r="3.3"/><circle cx="397.10" cy="873.44" r="3.3"/><circle cx="397.10" cy="886.93" r="3.3"/><circle cx="397.10" cy="948.40" r="3.3"/><circle cx="397.10" cy="876.81" r="3.3"/><circle cx="397.10" cy="923.44" r="3.3"/><circle cx="397.10" cy="903.58" r="3.3"/><circle cx="397.10" cy="881.87" r="3.3"/><circle cx="397.10" cy="930.29" r="3.3"/><circle cx="397.10" cy="941.94" r="3.3"/><circle cx="397.10" cy="861.11" r="3.3"/><circle cx="397.10" cy="988.52" r="3.3"/><circle cx="397.10" cy="905.98" r="3.3"/><circle cx="397.10" cy="865.22" r="3.3"/><circle cx="397.10" cy="946.25" r="3.3"/><circle cx="397.10" cy="957.01" r="3.3"/><circle cx="397.10" cy="891.99" r="3.3"/><circle cx="397.10" cy="895.36" r="3.3"/><circle cx="397.10" cy="888.62" r="3.3"/><circle cx="397.10" cy="952.70" r="3.3"/><circle cx="397.10" cy="883.56" r="3.3"/><circle cx="397.10" cy="950.55" r="3.3"/><circle cx="397.10" cy="933.72" r="3.3"/><circle cx="397.10" cy="920.02" r="3.3"/><circle cx="397.10" cy="932.01" r="3.3"/><circle cx="397.10" cy="890.30" r="3.3"/><circle cx="397.10" cy="921.73" r="3.3"/><circle cx="397.10" cy="925.16" r="3.3"/><circle cx="397.10" cy="885.24" r="3.3"/><circle cx="397.10" cy="913.17" r="3.3"/><circle cx="397.10" cy="926.87" r="3.3"/><circle cx="397.10" cy="878.50" r="3.3"/><circle cx="397.10" cy="880.18" r="3.3"/><circle cx="397.10" cy="944.09" r="3.3"/><circle cx="397.10" cy="928.58" r="3.3"/><circle cx="397.10" cy="893.67" r="3.3"/><circle cx="397.10" cy="933.72" r="3.3"/><circle cx="397.10" cy="972.90" r="3.3"/><circle cx="397.10" cy="925.50" r="3.3"/></g><path d="M312.20 852.00V995.10H424.70" fill="none" stroke="#151515" stroke-width="1.45"/><path d="M307.20 994.00H312.20M307.20 966.60H312.20M307.20 939.20H312.20M307.20 911.80H312.20M307.20 884.40H312.20M307.20 857.00H312.20M343.80 995.10V999.80M397.10 995.10V999.80" stroke="#151515" stroke-width="1.35" fill="none"/><text x="297.30" y="998.00" font-size="10.6">0</text><path d="M301.25 971.00L300.32 971.00L300.32 965.32L299.99 965.62L299.44 965.93L298.89 966.24L298.46 966.39L298.46 965.53L299.24 965.18L299.83 964.68L300.41 964.18L300.65 963.71L301.25 963.71Z" class="one"/><text x="297.30" y="943.00" font-size="10.6">2</text><text x="297.30" y="916.00" font-size="10.6">3</text><text x="297.30" y="888.00" font-size="10.6">4</text><text x="297.30" y="861.00" font-size="10.6">5</text><text x="343.80" y="1011.90" font-size="10.8" text-anchor="middle" fill="#151515" style="font-kerning:normal">Normal</text><text x="397.10" y="1011.90" font-size="10.8" text-anchor="middle" fill="#151515" style="font-kerning:normal">Tumor</text><g transform="translate(274.10 923.45) rotate(-90)"><text x="-67.93" y="0.00" font-size="12.6">The expression of FPR</text><path d="M65.62 0.00L64.51 0.00L64.51 -6.75L64.11 -6.39L63.46 -6.02L62.81 -5.66L62.30 -5.48L62.30 -6.50L63.22 -6.92L63.92 -7.51L64.61 -8.11L64.90 -8.67L65.62 -8.67Z" class="one"/></g><g transform="translate(286.50 923.45) rotate(-90)"><text x="-39.86" y="0.00" font-size="12.6">Log</text><text x="-18.84" y="3.90" font-size="10.5">2</text><text x="-13.00" y="0.00" font-size="12.6"> (TPM+</text><text x="35.66" y="0.00" font-size="12.6">)</text><path d="M33.35 0.00L32.24 0.00L32.24 -6.75L31.84 -6.39L31.19 -6.02L30.54 -5.66L30.03 -5.48L30.03 -6.50L30.96 -6.92L31.65 -7.51L32.35 -8.11L32.64 -8.67L33.35 -8.67Z" class="one"/></g><path d="M343.80 861.20V858.20H397.10V861.20" fill="none" stroke="#151515" stroke-width="1.4"/><path d="M366.05 852.95L365.49 854.23L364.10 854.37L365.15 855.29L364.85 856.66L366.05 855.95L367.25 856.66L366.95 855.29L368.00 854.37L366.61 854.23ZM370.45 852.95L369.89 854.23L368.50 854.37L369.55 855.29L369.25 856.66L370.45 855.95L371.65 856.66L371.35 855.29L372.40 854.37L371.01 854.23ZM374.85 852.95L374.29 854.23L372.90 854.37L373.95 855.29L373.65 856.66L374.85 855.95L376.05 856.66L375.75 855.29L376.80 854.37L375.41 854.23Z" fill="#151515" stroke="#151515" stroke-width="0.3" stroke-linejoin="round"/></g>
<g><text x="504.2" y="833.80" font-size="19.3" fill="#000">O</text><path d="M593.00 912.54L646.90 980.66M593.00 905.23L646.90 959.09M593.00 886.98L646.90 964.76M593.00 934.44L646.90 963.63M593.00 936.26L646.90 990.00M593.00 866.91L646.90 931.70M593.00 879.68L646.90 940.03M593.00 901.58L646.90 951.14M593.00 913.66L646.90 914.49M593.00 955.02L646.90 981.67M593.00 907.06L646.90 953.41M593.00 921.66L646.90 942.81M593.00 927.14L646.90 957.95M593.00 918.01L646.90 974.98M593.00 876.03L646.90 968.17M593.00 923.49L646.90 960.22M593.00 865.08L646.90 910.88M593.00 925.31L646.90 965.90M593.00 894.28L646.90 972.71M593.00 868.73L646.90 976.12M593.00 897.93L646.90 978.39M593.00 890.63L646.90 967.03M593.00 908.89L646.90 955.68M593.00 916.19L646.90 962.49M593.00 877.86L646.90 923.38M593.00 874.21L646.90 934.48M593.00 932.61L646.90 987.48M593.00 870.56L646.90 977.26M593.00 881.51L646.90 971.58M593.00 896.11L646.90 970.44M593.00 919.84L646.90 984.07M593.00 888.81L646.90 973.85M593.00 885.16L646.90 937.26M593.00 908.11L646.90 908.94M593.00 865.08L646.90 956.81M593.00 872.38L646.90 985.21M593.00 892.46L646.90 986.34M593.00 883.33L646.90 961.36M593.00 903.41L646.90 981.80M593.00 910.71L646.90 982.93M593.00 914.36L646.90 979.53M593.00 938.09L646.90 954.54M593.00 930.79L646.90 952.27M593.00 899.76L646.90 969.31M593.00 928.96L646.90 988.61" stroke="#000" stroke-width="1.35" fill="none"/><g fill="#48b9d9"><circle cx="593.00" cy="912.54" r="3.3"/><circle cx="593.00" cy="905.23" r="3.3"/><circle cx="593.00" cy="886.98" r="3.3"/><circle cx="593.00" cy="934.44" r="3.3"/><circle cx="593.00" cy="936.26" r="3.3"/><circle cx="593.00" cy="866.91" r="3.3"/><circle cx="593.00" cy="879.68" r="3.3"/><circle cx="593.00" cy="901.58" r="3.3"/><circle cx="593.00" cy="913.66" r="3.3"/><circle cx="593.00" cy="955.02" r="3.3"/><circle cx="593.00" cy="907.06" r="3.3"/><circle cx="593.00" cy="921.66" r="3.3"/><circle cx="593.00" cy="927.14" r="3.3"/><circle cx="593.00" cy="918.01" r="3.3"/><circle cx="593.00" cy="876.03" r="3.3"/><circle cx="593.00" cy="923.49" r="3.3"/><circle cx="593.00" cy="865.08" r="3.3"/><circle cx="593.00" cy="925.31" r="3.3"/><circle cx="593.00" cy="894.28" r="3.3"/><circle cx="593.00" cy="868.73" r="3.3"/><circle cx="593.00" cy="897.93" r="3.3"/><circle cx="593.00" cy="890.63" r="3.3"/><circle cx="593.00" cy="908.89" r="3.3"/><circle cx="593.00" cy="916.19" r="3.3"/><circle cx="593.00" cy="877.86" r="3.3"/><circle cx="593.00" cy="874.21" r="3.3"/><circle cx="593.00" cy="932.61" r="3.3"/><circle cx="593.00" cy="870.56" r="3.3"/><circle cx="593.00" cy="881.51" r="3.3"/><circle cx="593.00" cy="896.11" r="3.3"/><circle cx="593.00" cy="919.84" r="3.3"/><circle cx="593.00" cy="888.81" r="3.3"/><circle cx="593.00" cy="885.16" r="3.3"/><circle cx="593.00" cy="908.11" r="3.3"/><circle cx="593.00" cy="865.08" r="3.3"/><circle cx="593.00" cy="872.38" r="3.3"/><circle cx="593.00" cy="892.46" r="3.3"/><circle cx="593.00" cy="883.33" r="3.3"/><circle cx="593.00" cy="903.41" r="3.3"/><circle cx="593.00" cy="910.71" r="3.3"/><circle cx="593.00" cy="914.36" r="3.3"/><circle cx="593.00" cy="938.09" r="3.3"/><circle cx="593.00" cy="930.79" r="3.3"/><circle cx="593.00" cy="899.76" r="3.3"/><circle cx="593.00" cy="928.96" r="3.3"/></g><g fill="#e94b35"><circle cx="646.90" cy="980.66" r="3.3"/><circle cx="646.90" cy="959.09" r="3.3"/><circle cx="646.90" cy="964.76" r="3.3"/><circle cx="646.90" cy="963.63" r="3.3"/><circle cx="646.90" cy="990.00" r="3.3"/><circle cx="646.90" cy="931.70" r="3.3"/><circle cx="646.90" cy="940.03" r="3.3"/><circle cx="646.90" cy="951.14" r="3.3"/><circle cx="646.90" cy="914.49" r="3.3"/><circle cx="646.90" cy="981.67" r="3.3"/><circle cx="646.90" cy="953.41" r="3.3"/><circle cx="646.90" cy="942.81" r="3.3"/><circle cx="646.90" cy="957.95" r="3.3"/><circle cx="646.90" cy="974.98" r="3.3"/><circle cx="646.90" cy="968.17" r="3.3"/><circle cx="646.90" cy="960.22" r="3.3"/><circle cx="646.90" cy="910.88" r="3.3"/><circle cx="646.90" cy="965.90" r="3.3"/><circle cx="646.90" cy="972.71" r="3.3"/><circle cx="646.90" cy="976.12" r="3.3"/><circle cx="646.90" cy="978.39" r="3.3"/><circle cx="646.90" cy="967.03" r="3.3"/><circle cx="646.90" cy="955.68" r="3.3"/><circle cx="646.90" cy="962.49" r="3.3"/><circle cx="646.90" cy="923.38" r="3.3"/><circle cx="646.90" cy="934.48" r="3.3"/><circle cx="646.90" cy="987.48" r="3.3"/><circle cx="646.90" cy="977.26" r="3.3"/><circle cx="646.90" cy="971.58" r="3.3"/><circle cx="646.90" cy="970.44" r="3.3"/><circle cx="646.90" cy="984.07" r="3.3"/><circle cx="646.90" cy="973.85" r="3.3"/><circle cx="646.90" cy="937.26" r="3.3"/><circle cx="646.90" cy="908.94" r="3.3"/><circle cx="646.90" cy="956.81" r="3.3"/><circle cx="646.90" cy="985.21" r="3.3"/><circle cx="646.90" cy="986.34" r="3.3"/><circle cx="646.90" cy="961.36" r="3.3"/><circle cx="646.90" cy="981.80" r="3.3"/><circle cx="646.90" cy="982.93" r="3.3"/><circle cx="646.90" cy="979.53" r="3.3"/><circle cx="646.90" cy="954.54" r="3.3"/><circle cx="646.90" cy="952.27" r="3.3"/><circle cx="646.90" cy="969.31" r="3.3"/><circle cx="646.90" cy="988.61" r="3.3"/></g><path d="M561.00 850.60V996.30H679.00" fill="none" stroke="#151515" stroke-width="1.45"/><path d="M556.00 990.00H561.00M556.00 962.24H561.00M556.00 934.48H561.00M556.00 906.72H561.00M556.00 878.96H561.00M556.00 851.20H561.00M593.00 996.30V1001.00M646.90 996.30V1001.00" stroke="#151515" stroke-width="1.35" fill="none"/><text x="546.10" y="994.00" font-size="10.6">0</text><path d="M550.05 966.00L549.12 966.00L549.12 960.32L548.79 960.62L548.24 960.93L547.69 961.24L547.26 961.39L547.26 960.53L548.04 960.18L548.63 959.68L549.21 959.18L549.45 958.71L550.05 958.71Z" class="one"/><text x="546.10" y="939.00" font-size="10.6">2</text><text x="546.10" y="911.00" font-size="10.6">3</text><text x="546.10" y="883.00" font-size="10.6">4</text><text x="546.10" y="855.00" font-size="10.6">5</text><text x="593.00" y="1013.10" font-size="10.8" text-anchor="middle" fill="#151515" style="font-kerning:normal">Normal</text><text x="646.90" y="1013.10" font-size="10.8" text-anchor="middle" fill="#151515" style="font-kerning:normal">Tumor</text><g transform="translate(522.90 923.35) rotate(-90)"><text x="-71.44" y="0.00" font-size="12.6">The expression of CCL23</text></g><g transform="translate(535.30 923.35) rotate(-90)"><text x="-39.86" y="0.00" font-size="12.6">Log</text><text x="-18.84" y="3.90" font-size="10.5">2</text><text x="-13.00" y="0.00" font-size="12.6"> (TPM+</text><text x="35.66" y="0.00" font-size="12.6">)</text><path d="M33.35 0.00L32.24 0.00L32.24 -6.75L31.84 -6.39L31.19 -6.02L30.54 -5.66L30.03 -5.48L30.03 -6.50L30.96 -6.92L31.65 -7.51L32.35 -8.11L32.64 -8.67L33.35 -8.67Z" class="one"/></g><path d="M593.00 864.20V861.20H646.90V864.20" fill="none" stroke="#151515" stroke-width="1.4"/><path d="M615.55 855.95L614.99 857.23L613.60 857.37L614.65 858.29L614.35 859.66L615.55 858.95L616.75 859.66L616.45 858.29L617.50 857.37L616.11 857.23ZM619.95 855.95L619.39 857.23L618.00 857.37L619.05 858.29L618.75 859.66L619.95 858.95L621.15 859.66L620.85 858.29L621.90 857.37L620.51 857.23ZM624.35 855.95L623.79 857.23L622.40 857.37L623.45 858.29L623.15 859.66L624.35 858.95L625.55 859.66L625.25 858.29L626.30 857.37L624.91 857.23Z" fill="#151515" stroke="#151515" stroke-width="0.3" stroke-linejoin="round"/></g>
</svg></body></html>
